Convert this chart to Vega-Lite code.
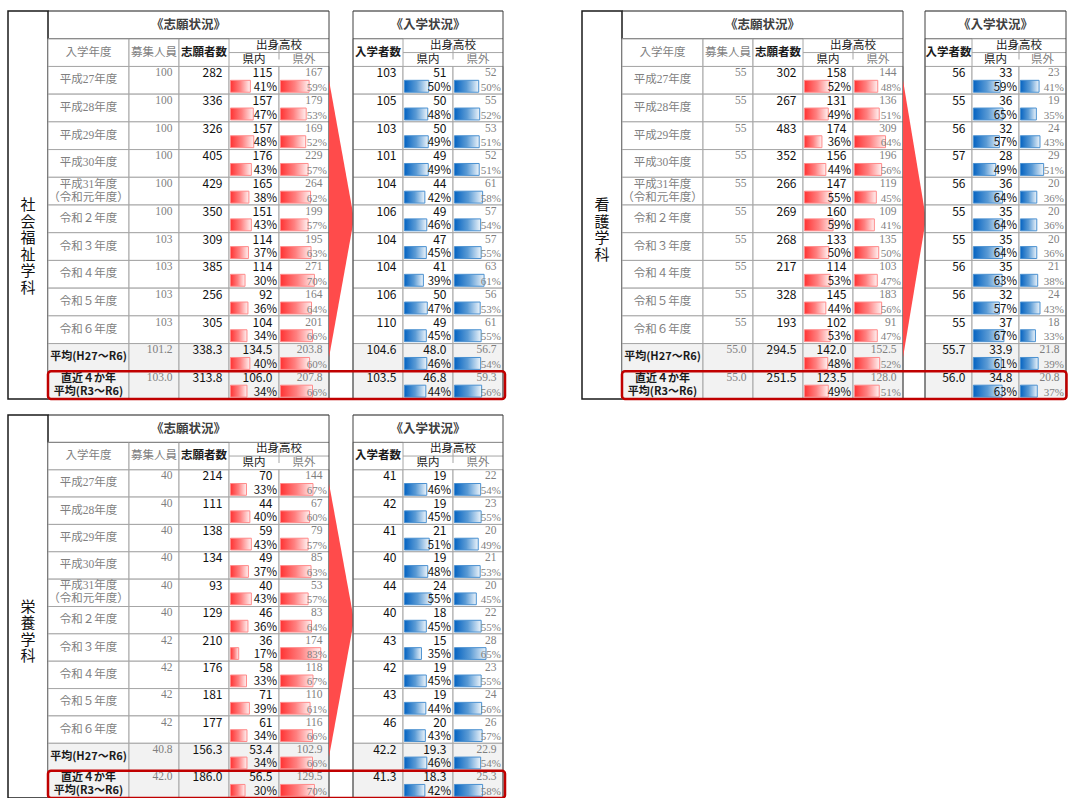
{
"$schema":"https://vega.github.io/schema/vega-lite/v6.json",
"padding":{"left":7,"top":10,"right":0,"bottom":0},
"background":"#FFFFFF",
"config":{"view":{"stroke":null}},
"datasets":{
"depts":[{"dept":"社会福祉学科","chars":["社","会","福","祉","学","科"]},{"dept":"看護学科","chars":["看","護","学","科"]},{"dept":"栄養学科","chars":["栄","養","学","科"]}],
"welfare_apply":[
{"row":"title","col":"募集人員","label":"《志願状況》"},{"row":"title","col":"志願者数"},{"row":"title","col":"県内"},{"row":"title","col":"県外"},
{"row":"header","col":"募集人員"},{"row":"header","col":"志願者数"},{"row":"header","col":"県内"},{"row":"header","col":"県外"},
{"row":"平成27年度","col":"募集人員","n":100},{"row":"平成27年度","col":"志願者数","n":282},{"row":"平成27年度","col":"県内","n":115,"pct":0.41},{"row":"平成27年度","col":"県外","n":167,"pct":0.59},
{"row":"平成28年度","col":"募集人員","n":100},{"row":"平成28年度","col":"志願者数","n":336},{"row":"平成28年度","col":"県内","n":157,"pct":0.47},{"row":"平成28年度","col":"県外","n":179,"pct":0.53},
{"row":"平成29年度","col":"募集人員","n":100},{"row":"平成29年度","col":"志願者数","n":326},{"row":"平成29年度","col":"県内","n":157,"pct":0.48},{"row":"平成29年度","col":"県外","n":169,"pct":0.52},
{"row":"平成30年度","col":"募集人員","n":100},{"row":"平成30年度","col":"志願者数","n":405},{"row":"平成30年度","col":"県内","n":176,"pct":0.43},{"row":"平成30年度","col":"県外","n":229,"pct":0.57},
{"row":"平成31年度\n（令和元年度）","col":"募集人員","n":100},{"row":"平成31年度\n（令和元年度）","col":"志願者数","n":429},{"row":"平成31年度\n（令和元年度）","col":"県内","n":165,"pct":0.38},{"row":"平成31年度\n（令和元年度）","col":"県外","n":264,"pct":0.62},
{"row":"令和２年度","col":"募集人員","n":100},{"row":"令和２年度","col":"志願者数","n":350},{"row":"令和２年度","col":"県内","n":151,"pct":0.43},{"row":"令和２年度","col":"県外","n":199,"pct":0.57},
{"row":"令和３年度","col":"募集人員","n":103},{"row":"令和３年度","col":"志願者数","n":309},{"row":"令和３年度","col":"県内","n":114,"pct":0.37},{"row":"令和３年度","col":"県外","n":195,"pct":0.63},
{"row":"令和４年度","col":"募集人員","n":103},{"row":"令和４年度","col":"志願者数","n":385},{"row":"令和４年度","col":"県内","n":114,"pct":0.30},{"row":"令和４年度","col":"県外","n":271,"pct":0.70},
{"row":"令和５年度","col":"募集人員","n":103},{"row":"令和５年度","col":"志願者数","n":256},{"row":"令和５年度","col":"県内","n":92,"pct":0.36},{"row":"令和５年度","col":"県外","n":164,"pct":0.64},
{"row":"令和６年度","col":"募集人員","n":103},{"row":"令和６年度","col":"志願者数","n":305},{"row":"令和６年度","col":"県内","n":104,"pct":0.34},{"row":"令和６年度","col":"県外","n":201,"pct":0.66},
{"row":"平均(H27～R6)","col":"募集人員","n":101.2},{"row":"平均(H27～R6)","col":"志願者数","n":338.3},{"row":"平均(H27～R6)","col":"県内","n":134.5,"pct":0.40},{"row":"平均(H27～R6)","col":"県外","n":203.8,"pct":0.60},
{"row":"直近４か年\n平均(R3～R6)","col":"募集人員","n":103.0},{"row":"直近４か年\n平均(R3～R6)","col":"志願者数","n":313.8},{"row":"直近４か年\n平均(R3～R6)","col":"県内","n":106.0,"pct":0.34},{"row":"直近４か年\n平均(R3～R6)","col":"県外","n":207.8,"pct":0.66}],
"welfare_enroll":[
{"row":"title","col":"入学者数"},{"row":"title","col":"県内","label":"《入学状況》"},{"row":"title","col":"県外"},
{"row":"header","col":"入学者数"},{"row":"header","col":"県内"},{"row":"header","col":"県外"},
{"row":"平成27年度","col":"入学者数","n":103},{"row":"平成27年度","col":"県内","n":51,"pct":0.50},{"row":"平成27年度","col":"県外","n":52,"pct":0.50},
{"row":"平成28年度","col":"入学者数","n":105},{"row":"平成28年度","col":"県内","n":50,"pct":0.48},{"row":"平成28年度","col":"県外","n":55,"pct":0.52},
{"row":"平成29年度","col":"入学者数","n":103},{"row":"平成29年度","col":"県内","n":50,"pct":0.49},{"row":"平成29年度","col":"県外","n":53,"pct":0.51},
{"row":"平成30年度","col":"入学者数","n":101},{"row":"平成30年度","col":"県内","n":49,"pct":0.49},{"row":"平成30年度","col":"県外","n":52,"pct":0.51},
{"row":"平成31年度\n（令和元年度）","col":"入学者数","n":104},{"row":"平成31年度\n（令和元年度）","col":"県内","n":44,"pct":0.42},{"row":"平成31年度\n（令和元年度）","col":"県外","n":61,"pct":0.58},
{"row":"令和２年度","col":"入学者数","n":106},{"row":"令和２年度","col":"県内","n":49,"pct":0.46},{"row":"令和２年度","col":"県外","n":57,"pct":0.54},
{"row":"令和３年度","col":"入学者数","n":104},{"row":"令和３年度","col":"県内","n":47,"pct":0.45},{"row":"令和３年度","col":"県外","n":57,"pct":0.55},
{"row":"令和４年度","col":"入学者数","n":104},{"row":"令和４年度","col":"県内","n":41,"pct":0.39},{"row":"令和４年度","col":"県外","n":63,"pct":0.61},
{"row":"令和５年度","col":"入学者数","n":106},{"row":"令和５年度","col":"県内","n":50,"pct":0.47},{"row":"令和５年度","col":"県外","n":56,"pct":0.53},
{"row":"令和６年度","col":"入学者数","n":110},{"row":"令和６年度","col":"県内","n":49,"pct":0.45},{"row":"令和６年度","col":"県外","n":61,"pct":0.55},
{"row":"平均(H27～R6)","col":"入学者数","n":104.6},{"row":"平均(H27～R6)","col":"県内","n":48.0,"pct":0.46},{"row":"平均(H27～R6)","col":"県外","n":56.7,"pct":0.54},
{"row":"直近４か年\n平均(R3～R6)","col":"入学者数","n":103.5},{"row":"直近４か年\n平均(R3～R6)","col":"県内","n":46.8,"pct":0.44},{"row":"直近４か年\n平均(R3～R6)","col":"県外","n":59.3,"pct":0.56}],
"nursing_apply":[
{"row":"title","col":"募集人員","label":"《志願状況》"},{"row":"title","col":"志願者数"},{"row":"title","col":"県内"},{"row":"title","col":"県外"},
{"row":"header","col":"募集人員"},{"row":"header","col":"志願者数"},{"row":"header","col":"県内"},{"row":"header","col":"県外"},
{"row":"平成27年度","col":"募集人員","n":55},{"row":"平成27年度","col":"志願者数","n":302},{"row":"平成27年度","col":"県内","n":158,"pct":0.52},{"row":"平成27年度","col":"県外","n":144,"pct":0.48},
{"row":"平成28年度","col":"募集人員","n":55},{"row":"平成28年度","col":"志願者数","n":267},{"row":"平成28年度","col":"県内","n":131,"pct":0.49},{"row":"平成28年度","col":"県外","n":136,"pct":0.51},
{"row":"平成29年度","col":"募集人員","n":55},{"row":"平成29年度","col":"志願者数","n":483},{"row":"平成29年度","col":"県内","n":174,"pct":0.36},{"row":"平成29年度","col":"県外","n":309,"pct":0.64},
{"row":"平成30年度","col":"募集人員","n":55},{"row":"平成30年度","col":"志願者数","n":352},{"row":"平成30年度","col":"県内","n":156,"pct":0.44},{"row":"平成30年度","col":"県外","n":196,"pct":0.56},
{"row":"平成31年度\n（令和元年度）","col":"募集人員","n":55},{"row":"平成31年度\n（令和元年度）","col":"志願者数","n":266},{"row":"平成31年度\n（令和元年度）","col":"県内","n":147,"pct":0.55},{"row":"平成31年度\n（令和元年度）","col":"県外","n":119,"pct":0.45},
{"row":"令和２年度","col":"募集人員","n":55},{"row":"令和２年度","col":"志願者数","n":269},{"row":"令和２年度","col":"県内","n":160,"pct":0.59},{"row":"令和２年度","col":"県外","n":109,"pct":0.41},
{"row":"令和３年度","col":"募集人員","n":55},{"row":"令和３年度","col":"志願者数","n":268},{"row":"令和３年度","col":"県内","n":133,"pct":0.50},{"row":"令和３年度","col":"県外","n":135,"pct":0.50},
{"row":"令和４年度","col":"募集人員","n":55},{"row":"令和４年度","col":"志願者数","n":217},{"row":"令和４年度","col":"県内","n":114,"pct":0.53},{"row":"令和４年度","col":"県外","n":103,"pct":0.47},
{"row":"令和５年度","col":"募集人員","n":55},{"row":"令和５年度","col":"志願者数","n":328},{"row":"令和５年度","col":"県内","n":145,"pct":0.44},{"row":"令和５年度","col":"県外","n":183,"pct":0.56},
{"row":"令和６年度","col":"募集人員","n":55},{"row":"令和６年度","col":"志願者数","n":193},{"row":"令和６年度","col":"県内","n":102,"pct":0.53},{"row":"令和６年度","col":"県外","n":91,"pct":0.47},
{"row":"平均(H27～R6)","col":"募集人員","n":55.0},{"row":"平均(H27～R6)","col":"志願者数","n":294.5},{"row":"平均(H27～R6)","col":"県内","n":142.0,"pct":0.48},{"row":"平均(H27～R6)","col":"県外","n":152.5,"pct":0.52},
{"row":"直近４か年\n平均(R3～R6)","col":"募集人員","n":55.0},{"row":"直近４か年\n平均(R3～R6)","col":"志願者数","n":251.5},{"row":"直近４か年\n平均(R3～R6)","col":"県内","n":123.5,"pct":0.49},{"row":"直近４か年\n平均(R3～R6)","col":"県外","n":128.0,"pct":0.51}],
"nursing_enroll":[
{"row":"title","col":"入学者数"},{"row":"title","col":"県内","label":"《入学状況》"},{"row":"title","col":"県外"},
{"row":"header","col":"入学者数"},{"row":"header","col":"県内"},{"row":"header","col":"県外"},
{"row":"平成27年度","col":"入学者数","n":56},{"row":"平成27年度","col":"県内","n":33,"pct":0.59},{"row":"平成27年度","col":"県外","n":23,"pct":0.41},
{"row":"平成28年度","col":"入学者数","n":55},{"row":"平成28年度","col":"県内","n":36,"pct":0.65},{"row":"平成28年度","col":"県外","n":19,"pct":0.35},
{"row":"平成29年度","col":"入学者数","n":56},{"row":"平成29年度","col":"県内","n":32,"pct":0.57},{"row":"平成29年度","col":"県外","n":24,"pct":0.43},
{"row":"平成30年度","col":"入学者数","n":57},{"row":"平成30年度","col":"県内","n":28,"pct":0.49},{"row":"平成30年度","col":"県外","n":29,"pct":0.51},
{"row":"平成31年度\n（令和元年度）","col":"入学者数","n":56},{"row":"平成31年度\n（令和元年度）","col":"県内","n":36,"pct":0.64},{"row":"平成31年度\n（令和元年度）","col":"県外","n":20,"pct":0.36},
{"row":"令和２年度","col":"入学者数","n":55},{"row":"令和２年度","col":"県内","n":35,"pct":0.64},{"row":"令和２年度","col":"県外","n":20,"pct":0.36},
{"row":"令和３年度","col":"入学者数","n":55},{"row":"令和３年度","col":"県内","n":35,"pct":0.64},{"row":"令和３年度","col":"県外","n":20,"pct":0.36},
{"row":"令和４年度","col":"入学者数","n":56},{"row":"令和４年度","col":"県内","n":35,"pct":0.63},{"row":"令和４年度","col":"県外","n":21,"pct":0.38},
{"row":"令和５年度","col":"入学者数","n":56},{"row":"令和５年度","col":"県内","n":32,"pct":0.57},{"row":"令和５年度","col":"県外","n":24,"pct":0.43},
{"row":"令和６年度","col":"入学者数","n":55},{"row":"令和６年度","col":"県内","n":37,"pct":0.67},{"row":"令和６年度","col":"県外","n":18,"pct":0.33},
{"row":"平均(H27～R6)","col":"入学者数","n":55.7},{"row":"平均(H27～R6)","col":"県内","n":33.9,"pct":0.61},{"row":"平均(H27～R6)","col":"県外","n":21.8,"pct":0.39},
{"row":"直近４か年\n平均(R3～R6)","col":"入学者数","n":56.0},{"row":"直近４か年\n平均(R3～R6)","col":"県内","n":34.8,"pct":0.63},{"row":"直近４か年\n平均(R3～R6)","col":"県外","n":20.8,"pct":0.37}],
"nutrition_apply":[
{"row":"title","col":"募集人員","label":"《志願状況》"},{"row":"title","col":"志願者数"},{"row":"title","col":"県内"},{"row":"title","col":"県外"},
{"row":"header","col":"募集人員"},{"row":"header","col":"志願者数"},{"row":"header","col":"県内"},{"row":"header","col":"県外"},
{"row":"平成27年度","col":"募集人員","n":40},{"row":"平成27年度","col":"志願者数","n":214},{"row":"平成27年度","col":"県内","n":70,"pct":0.33},{"row":"平成27年度","col":"県外","n":144,"pct":0.67},
{"row":"平成28年度","col":"募集人員","n":40},{"row":"平成28年度","col":"志願者数","n":111},{"row":"平成28年度","col":"県内","n":44,"pct":0.40},{"row":"平成28年度","col":"県外","n":67,"pct":0.60},
{"row":"平成29年度","col":"募集人員","n":40},{"row":"平成29年度","col":"志願者数","n":138},{"row":"平成29年度","col":"県内","n":59,"pct":0.43},{"row":"平成29年度","col":"県外","n":79,"pct":0.57},
{"row":"平成30年度","col":"募集人員","n":40},{"row":"平成30年度","col":"志願者数","n":134},{"row":"平成30年度","col":"県内","n":49,"pct":0.37},{"row":"平成30年度","col":"県外","n":85,"pct":0.63},
{"row":"平成31年度\n（令和元年度）","col":"募集人員","n":40},{"row":"平成31年度\n（令和元年度）","col":"志願者数","n":93},{"row":"平成31年度\n（令和元年度）","col":"県内","n":40,"pct":0.43},{"row":"平成31年度\n（令和元年度）","col":"県外","n":53,"pct":0.57},
{"row":"令和２年度","col":"募集人員","n":40},{"row":"令和２年度","col":"志願者数","n":129},{"row":"令和２年度","col":"県内","n":46,"pct":0.36},{"row":"令和２年度","col":"県外","n":83,"pct":0.64},
{"row":"令和３年度","col":"募集人員","n":42},{"row":"令和３年度","col":"志願者数","n":210},{"row":"令和３年度","col":"県内","n":36,"pct":0.17},{"row":"令和３年度","col":"県外","n":174,"pct":0.83},
{"row":"令和４年度","col":"募集人員","n":42},{"row":"令和４年度","col":"志願者数","n":176},{"row":"令和４年度","col":"県内","n":58,"pct":0.33},{"row":"令和４年度","col":"県外","n":118,"pct":0.67},
{"row":"令和５年度","col":"募集人員","n":42},{"row":"令和５年度","col":"志願者数","n":181},{"row":"令和５年度","col":"県内","n":71,"pct":0.39},{"row":"令和５年度","col":"県外","n":110,"pct":0.61},
{"row":"令和６年度","col":"募集人員","n":42},{"row":"令和６年度","col":"志願者数","n":177},{"row":"令和６年度","col":"県内","n":61,"pct":0.34},{"row":"令和６年度","col":"県外","n":116,"pct":0.66},
{"row":"平均(H27～R6)","col":"募集人員","n":40.8},{"row":"平均(H27～R6)","col":"志願者数","n":156.3},{"row":"平均(H27～R6)","col":"県内","n":53.4,"pct":0.34},{"row":"平均(H27～R6)","col":"県外","n":102.9,"pct":0.66},
{"row":"直近４か年\n平均(R3～R6)","col":"募集人員","n":42.0},{"row":"直近４か年\n平均(R3～R6)","col":"志願者数","n":186.0},{"row":"直近４か年\n平均(R3～R6)","col":"県内","n":56.5,"pct":0.30},{"row":"直近４か年\n平均(R3～R6)","col":"県外","n":129.5,"pct":0.70}],
"nutrition_enroll":[
{"row":"title","col":"入学者数"},{"row":"title","col":"県内","label":"《入学状況》"},{"row":"title","col":"県外"},
{"row":"header","col":"入学者数"},{"row":"header","col":"県内"},{"row":"header","col":"県外"},
{"row":"平成27年度","col":"入学者数","n":41},{"row":"平成27年度","col":"県内","n":19,"pct":0.46},{"row":"平成27年度","col":"県外","n":22,"pct":0.54},
{"row":"平成28年度","col":"入学者数","n":42},{"row":"平成28年度","col":"県内","n":19,"pct":0.45},{"row":"平成28年度","col":"県外","n":23,"pct":0.55},
{"row":"平成29年度","col":"入学者数","n":41},{"row":"平成29年度","col":"県内","n":21,"pct":0.51},{"row":"平成29年度","col":"県外","n":20,"pct":0.49},
{"row":"平成30年度","col":"入学者数","n":40},{"row":"平成30年度","col":"県内","n":19,"pct":0.48},{"row":"平成30年度","col":"県外","n":21,"pct":0.53},
{"row":"平成31年度\n（令和元年度）","col":"入学者数","n":44},{"row":"平成31年度\n（令和元年度）","col":"県内","n":24,"pct":0.55},{"row":"平成31年度\n（令和元年度）","col":"県外","n":20,"pct":0.45},
{"row":"令和２年度","col":"入学者数","n":40},{"row":"令和２年度","col":"県内","n":18,"pct":0.45},{"row":"令和２年度","col":"県外","n":22,"pct":0.55},
{"row":"令和３年度","col":"入学者数","n":43},{"row":"令和３年度","col":"県内","n":15,"pct":0.35},{"row":"令和３年度","col":"県外","n":28,"pct":0.65},
{"row":"令和４年度","col":"入学者数","n":42},{"row":"令和４年度","col":"県内","n":19,"pct":0.45},{"row":"令和４年度","col":"県外","n":23,"pct":0.55},
{"row":"令和５年度","col":"入学者数","n":43},{"row":"令和５年度","col":"県内","n":19,"pct":0.44},{"row":"令和５年度","col":"県外","n":24,"pct":0.56},
{"row":"令和６年度","col":"入学者数","n":46},{"row":"令和６年度","col":"県内","n":20,"pct":0.43},{"row":"令和６年度","col":"県外","n":26,"pct":0.57},
{"row":"平均(H27～R6)","col":"入学者数","n":42.2},{"row":"平均(H27～R6)","col":"県内","n":19.3,"pct":0.46},{"row":"平均(H27～R6)","col":"県外","n":22.9,"pct":0.54},
{"row":"直近４か年\n平均(R3～R6)","col":"入学者数","n":41.3},{"row":"直近４か年\n平均(R3～R6)","col":"県内","n":18.3,"pct":0.42},{"row":"直近４か年\n平均(R3～R6)","col":"県外","n":25.3,"pct":0.58}]
},
"vconcat":[
{"hconcat":[
{"hconcat":[
 {"width":40,"height":388,"data":{"name":"depts"},"transform":[{"filter":"datum.dept==='社会福祉学科'"}],"layer":[
  {"mark":{"type":"rect","fill":"#FFFFFF","stroke":"#1A1A1A","strokeWidth":1.5},"encoding":{"x":{"datum":0,"type":"quantitative","scale":{"domain":[0,1],"nice":false,"zero":false},"axis":null},"x2":{"datum":1},"y":{"datum":0,"type":"quantitative","scale":{"domain":[0,1],"nice":false,"zero":false},"axis":null},"y2":{"datum":1}}},
  {"mark":{"type":"text","font":"Noto Sans CJK JP","fontSize":15,"lineHeight":16.5,"color":"#111111","baseline":"middle","align":"center"},"encoding":{"x":{"datum":0.5,"type":"quantitative","scale":{"domain":[0,1],"nice":false,"zero":false},"axis":null},"y":{"datum":0.5,"type":"quantitative","scale":{"domain":[0,1],"nice":false,"zero":false},"axis":null},"text":{"field":"chars"}}}]},
 {"width":81,"height":388,"data":{"name":"welfare_apply"},"transform":[{"filter":"datum.col==='募集人員'"}],"layer":[
  {"transform":[{"filter":"datum.row!=='header' && datum.row!=='title'"}],"mark":{"type":"rect","stroke":"#A6A6A6","strokeWidth":1},"encoding":{"x":{"datum":0,"type":"quantitative","scale":{"domain":[0,1],"nice":false,"zero":false},"axis":null},"x2":{"datum":1},"y":{"field":"row","type":"nominal","scale":{"domain":["title","header","平成27年度","平成28年度","平成29年度","平成30年度","平成31年度\n（令和元年度）","令和２年度","令和３年度","令和４年度","令和５年度","令和６年度","平均(H27～R6)","直近４か年\n平均(R3～R6)"],"paddingInner":0,"paddingOuter":0},"axis":null},"fill":{"condition":{"test":"indexof(datum.row,'平均')>=0","value":"#F2F2F2"},"value":"#FFFFFF"}}},
  {"transform":[{"filter":"datum.row==='header'"}],"mark":{"type":"rect","fill":"#FFFFFF","stroke":"#A6A6A6","strokeWidth":1},"encoding":{"x":{"datum":0,"type":"quantitative","scale":{"domain":[0,1],"nice":false,"zero":false},"axis":null},"x2":{"datum":1},"y":{"field":"row","type":"nominal","axis":null}}},
  {"transform":[{"filter":"datum.row==='title'"}],"mark":{"type":"rule","stroke":"#1A1A1A","strokeWidth":1.2},"encoding":{"y":{"field":"row","type":"nominal","bandPosition":0,"axis":null}}},
  {"transform":[{"filter":"datum.row==='title'"}],"mark":{"type":"rule","stroke":"#808080","strokeWidth":1},"encoding":{"y":{"field":"row","type":"nominal","bandPosition":1,"axis":null}}},
  {"transform":[{"filter":"datum.row!=='header' && datum.row!=='title' && indexof(datum.row,'平均')<0 && indexof(datum.row,'令和元年度')<0"}],"mark":{"type":"text","font":"Liberation Serif, Noto Sans CJK JP","fontSize":11.5,"color":"#7F7F7F","baseline":"middle","align":"center"},"encoding":{"x":{"datum":0.5,"type":"quantitative","scale":{"domain":[0,1],"nice":false,"zero":false},"axis":null},"y":{"field":"row","type":"nominal","axis":null},"text":{"field":"row"}}},
  {"transform":[{"filter":"indexof(datum.row,'令和元年度')>=0"}],"mark":{"type":"text","font":"Liberation Serif, Noto Sans CJK JP","fontSize":11.5,"color":"#7F7F7F","baseline":"middle","align":"center","lineBreak":"\n","lineHeight":13,"dy":-6.5},"encoding":{"x":{"datum":0.5,"type":"quantitative","scale":{"domain":[0,1],"nice":false,"zero":false},"axis":null},"y":{"field":"row","type":"nominal","axis":null},"text":{"field":"row"}}},
  {"transform":[{"filter":"indexof(datum.row,'平均')===0"}],"mark":{"type":"text","font":"Noto Sans CJK JP","fontSize":11,"fontWeight":"bold","color":"#1A1A1A","baseline":"middle","align":"center"},"encoding":{"x":{"datum":0.5,"type":"quantitative","scale":{"domain":[0,1],"nice":false,"zero":false},"axis":null},"y":{"field":"row","type":"nominal","axis":null},"text":{"field":"row"}}},
  {"transform":[{"filter":"indexof(datum.row,'直近')===0"}],"mark":{"type":"text","font":"Noto Sans CJK JP","fontSize":11,"fontWeight":"bold","color":"#1A1A1A","baseline":"middle","align":"center","lineBreak":"\n","lineHeight":13,"dy":-6.5},"encoding":{"x":{"datum":0.5,"type":"quantitative","scale":{"domain":[0,1],"nice":false,"zero":false},"axis":null},"y":{"field":"row","type":"nominal","axis":null},"text":{"field":"row"}}},
  {"transform":[{"filter":"datum.row==='header'"}],"mark":{"type":"text","font":"Noto Sans CJK JP","fontSize":11.5,"color":"#7F7F7F","baseline":"middle","align":"center"},"encoding":{"x":{"datum":0.5,"type":"quantitative","scale":{"domain":[0,1],"nice":false,"zero":false},"axis":null},"y":{"field":"row","type":"nominal","axis":null},"text":{"value":"入学年度"}}},
  {"transform":[{"filter":"indexof(datum.row,'直近')===0"}],"mark":{"type":"rule","stroke":"#404040","strokeWidth":1},"encoding":{"y":{"field":"row","type":"nominal","bandPosition":1,"axis":null}}}]},
 {"width":50,"height":388,"data":{"name":"welfare_apply"},"transform":[{"filter":"datum.col==='募集人員'"}],"layer":[
  {"transform":[{"filter":"datum.row!=='header' && datum.row!=='title'"}],"mark":{"type":"rect","stroke":"#A6A6A6","strokeWidth":1},"encoding":{"x":{"datum":-0.03,"type":"quantitative","scale":{"domain":[-0.03,1],"nice":false,"zero":false},"axis":null},"x2":{"datum":1},"y":{"field":"row","type":"nominal","scale":{"domain":["title","header","平成27年度","平成28年度","平成29年度","平成30年度","平成31年度\n（令和元年度）","令和２年度","令和３年度","令和４年度","令和５年度","令和６年度","平均(H27～R6)","直近４か年\n平均(R3～R6)"],"paddingInner":0,"paddingOuter":0},"axis":null},"fill":{"condition":{"test":"indexof(datum.row,'平均')>=0","value":"#F2F2F2"},"value":"#FFFFFF"}}},
  {"transform":[{"filter":"datum.row==='header'"}],"mark":{"type":"rect","fill":"#FFFFFF","stroke":"#A6A6A6","strokeWidth":1},"encoding":{"x":{"datum":-0.03,"type":"quantitative","scale":{"domain":[-0.03,1],"nice":false,"zero":false},"axis":null},"x2":{"datum":1},"y":{"field":"row","type":"nominal","axis":null}}},
  {"transform":[{"filter":"datum.row==='title'"}],"mark":{"type":"rule","stroke":"#1A1A1A","strokeWidth":1.2},"encoding":{"y":{"field":"row","type":"nominal","bandPosition":0,"axis":null}}},
  {"transform":[{"filter":"datum.row==='title'"}],"mark":{"type":"rule","stroke":"#808080","strokeWidth":1},"encoding":{"y":{"field":"row","type":"nominal","bandPosition":1,"axis":null}}},
  {"transform":[{"filter":"datum.row==='header'"}],"mark":{"type":"text","font":"Noto Sans CJK JP","fontSize":11.5,"color":"#7F7F7F","baseline":"middle","align":"center"},"encoding":{"x":{"datum":0.485,"type":"quantitative","scale":{"domain":[-0.03,1],"nice":false,"zero":false},"axis":null},"y":{"field":"row","type":"nominal","axis":null},"text":{"field":"col"}}},
  {"transform":[{"filter":"isValid(datum.label)"}],"mark":{"type":"text","font":"Noto Sans CJK JP","fontSize":12.5,"fontWeight":"bold","color":"#404040","baseline":"middle","align":"center","dx":9.5},"encoding":{"x":{"datum":1,"type":"quantitative","scale":{"domain":[-0.03,1],"nice":false,"zero":false},"axis":null},"y":{"field":"row","type":"nominal","axis":null},"text":{"field":"label"}}},
  {"transform":[{"filter":"isValid(datum.n) && indexof(datum.row,'平均')<0"}],"mark":{"type":"text","font":"Liberation Serif, Noto Sans CJK JP","fontSize":11.5,"color":"#7F7F7F","align":"right","baseline":"middle","dx":-6.5,"dy":-7},"encoding":{"x":{"datum":1,"type":"quantitative","scale":{"domain":[-0.03,1],"nice":false,"zero":false},"axis":null},"y":{"field":"row","type":"nominal","axis":null},"text":{"field":"n","type":"quantitative","format":"d"}}},
  {"transform":[{"filter":"isValid(datum.n) && indexof(datum.row,'平均')>=0"}],"mark":{"type":"text","font":"Liberation Serif, Noto Sans CJK JP","fontSize":11.5,"color":"#7F7F7F","align":"right","baseline":"middle","dx":-6.5,"dy":-7},"encoding":{"x":{"datum":1,"type":"quantitative","scale":{"domain":[-0.03,1],"nice":false,"zero":false},"axis":null},"y":{"field":"row","type":"nominal","axis":null},"text":{"field":"n","type":"quantitative","format":".1f"}}},
  {"transform":[{"filter":"indexof(datum.row,'直近')===0"}],"mark":{"type":"rule","stroke":"#404040","strokeWidth":1},"encoding":{"y":{"field":"row","type":"nominal","bandPosition":1,"axis":null}}}]},
 {"width":50,"height":388,"data":{"name":"welfare_apply"},"transform":[{"filter":"datum.col==='志願者数'"}],"layer":[
  {"transform":[{"filter":"datum.row!=='header' && datum.row!=='title'"}],"mark":{"type":"rect","stroke":"#A6A6A6","strokeWidth":1},"encoding":{"x":{"datum":-0.03,"type":"quantitative","scale":{"domain":[-0.03,1],"nice":false,"zero":false},"axis":null},"x2":{"datum":1},"y":{"field":"row","type":"nominal","scale":{"domain":["title","header","平成27年度","平成28年度","平成29年度","平成30年度","平成31年度\n（令和元年度）","令和２年度","令和３年度","令和４年度","令和５年度","令和６年度","平均(H27～R6)","直近４か年\n平均(R3～R6)"],"paddingInner":0,"paddingOuter":0},"axis":null},"fill":{"condition":{"test":"indexof(datum.row,'平均')>=0","value":"#F2F2F2"},"value":"#FFFFFF"}}},
  {"transform":[{"filter":"datum.row==='header'"}],"mark":{"type":"rect","fill":"#FFFFFF","stroke":"#A6A6A6","strokeWidth":1},"encoding":{"x":{"datum":-0.03,"type":"quantitative","scale":{"domain":[-0.03,1],"nice":false,"zero":false},"axis":null},"x2":{"datum":1},"y":{"field":"row","type":"nominal","axis":null}}},
  {"transform":[{"filter":"datum.row==='title'"}],"mark":{"type":"rule","stroke":"#1A1A1A","strokeWidth":1.2},"encoding":{"y":{"field":"row","type":"nominal","bandPosition":0,"axis":null}}},
  {"transform":[{"filter":"datum.row==='title'"}],"mark":{"type":"rule","stroke":"#808080","strokeWidth":1},"encoding":{"y":{"field":"row","type":"nominal","bandPosition":1,"axis":null}}},
  {"transform":[{"filter":"datum.row==='header'"}],"mark":{"type":"text","font":"Noto Sans CJK JP","fontSize":11.5,"fontWeight":"bold","color":"#1A1A1A","baseline":"middle","align":"center"},"encoding":{"x":{"datum":0.485,"type":"quantitative","scale":{"domain":[-0.03,1],"nice":false,"zero":false},"axis":null},"y":{"field":"row","type":"nominal","axis":null},"text":{"field":"col"}}},
  {"transform":[{"filter":"isValid(datum.n) && indexof(datum.row,'平均')<0"}],"mark":{"type":"text","font":"Liberation Sans Narrow, Noto Sans CJK JP","fontSize":12,"color":"#111111","align":"right","baseline":"middle","dx":-6.5,"dy":-7},"encoding":{"x":{"datum":1,"type":"quantitative","scale":{"domain":[-0.03,1],"nice":false,"zero":false},"axis":null},"y":{"field":"row","type":"nominal","axis":null},"text":{"field":"n","type":"quantitative","format":"d"}}},
  {"transform":[{"filter":"isValid(datum.n) && indexof(datum.row,'平均')>=0"}],"mark":{"type":"text","font":"Liberation Sans Narrow, Noto Sans CJK JP","fontSize":12,"color":"#111111","align":"right","baseline":"middle","dx":-6.5,"dy":-7},"encoding":{"x":{"datum":1,"type":"quantitative","scale":{"domain":[-0.03,1],"nice":false,"zero":false},"axis":null},"y":{"field":"row","type":"nominal","axis":null},"text":{"field":"n","type":"quantitative","format":".1f"}}},
  {"transform":[{"filter":"indexof(datum.row,'直近')===0"}],"mark":{"type":"rule","stroke":"#404040","strokeWidth":1},"encoding":{"y":{"field":"row","type":"nominal","bandPosition":1,"axis":null}}}]},
 {"width":50,"height":388,"data":{"name":"welfare_apply"},"transform":[{"filter":"datum.col==='県内'"}],"layer":[
  {"transform":[{"filter":"datum.row!=='header' && datum.row!=='title'"}],"mark":{"type":"rect","stroke":"#A6A6A6","strokeWidth":1},"encoding":{"x":{"datum":-0.03,"type":"quantitative","scale":{"domain":[-0.03,1],"nice":false,"zero":false},"axis":null},"x2":{"datum":1},"y":{"field":"row","type":"nominal","scale":{"domain":["title","header","平成27年度","平成28年度","平成29年度","平成30年度","平成31年度\n（令和元年度）","令和２年度","令和３年度","令和４年度","令和５年度","令和６年度","平均(H27～R6)","直近４か年\n平均(R3～R6)"],"paddingInner":0,"paddingOuter":0},"axis":null},"fill":{"condition":{"test":"indexof(datum.row,'平均')>=0","value":"#F2F2F2"},"value":"#FFFFFF"}}},
  {"transform":[{"filter":"datum.row==='title'"}],"mark":{"type":"rule","stroke":"#1A1A1A","strokeWidth":1.2},"encoding":{"y":{"field":"row","type":"nominal","bandPosition":0,"axis":null}}},
  {"transform":[{"filter":"datum.row==='title'"}],"mark":{"type":"rule","stroke":"#808080","strokeWidth":1},"encoding":{"y":{"field":"row","type":"nominal","bandPosition":1,"axis":null}}},
  {"transform":[{"filter":"datum.row==='header'"}],"mark":{"type":"rule","stroke":"#A6A6A6","strokeWidth":1},"encoding":{"y":{"field":"row","type":"nominal","bandPosition":0.5,"axis":null}}},
  {"transform":[{"filter":"datum.row==='header'"}],"mark":{"type":"tick","orient":"vertical","size":13.86,"thickness":1,"color":"#A6A6A6","opacity":1},"encoding":{"x":{"datum":1,"type":"quantitative","scale":{"domain":[-0.03,1],"nice":false,"zero":false},"axis":null},"y":{"field":"row","type":"nominal","bandPosition":0.75,"axis":null}}},
  {"transform":[{"filter":"isValid(datum.pct)"}],"mark":{"type":"bar","height":{"band":0.43},"yOffset":6,"fill":{"gradient":"linear","x1":0,"y1":0,"x2":1,"y2":0,"stops":[{"offset":0,"color":"#FF3333"},{"offset":0.5,"color":"#FF8080"},{"offset":1,"color":"#FFF2F2"}]},"stroke":"#FF8A8A","strokeWidth":1},"encoding":{"x":{"field":"pct","type":"quantitative","scale":{"domain":[-0.03,1],"nice":false,"zero":false},"axis":null},"y":{"field":"row","type":"nominal","axis":null}}},
  {"transform":[{"filter":"datum.row==='header'"}],"mark":{"type":"text","font":"Noto Sans CJK JP","fontSize":11.5,"color":"#1A1A1A","baseline":"middle","align":"center"},"encoding":{"x":{"datum":0.485,"type":"quantitative","scale":{"domain":[-0.03,1],"nice":false,"zero":false},"axis":null},"y":{"field":"row","type":"nominal","bandPosition":0.75,"axis":null},"text":{"field":"col"}}},
  {"transform":[{"filter":"datum.row==='header'"}],"mark":{"type":"text","font":"Noto Sans CJK JP","fontSize":11.5,"color":"#1A1A1A","baseline":"middle","align":"center"},"encoding":{"x":{"datum":1,"type":"quantitative","scale":{"domain":[-0.03,1],"nice":false,"zero":false},"axis":null},"y":{"field":"row","type":"nominal","bandPosition":0.25,"axis":null},"text":{"value":"出身高校"}}},
  {"transform":[{"filter":"isValid(datum.n) && indexof(datum.row,'平均')<0"}],"mark":{"type":"text","font":"Liberation Sans Narrow, Noto Sans CJK JP","fontSize":12,"color":"#111111","align":"right","baseline":"middle","dx":-6.5,"dy":-7},"encoding":{"x":{"datum":1,"type":"quantitative","scale":{"domain":[-0.03,1],"nice":false,"zero":false},"axis":null},"y":{"field":"row","type":"nominal","axis":null},"text":{"field":"n","type":"quantitative","format":"d"}}},
  {"transform":[{"filter":"isValid(datum.n) && indexof(datum.row,'平均')>=0"}],"mark":{"type":"text","font":"Liberation Sans Narrow, Noto Sans CJK JP","fontSize":12,"color":"#111111","align":"right","baseline":"middle","dx":-6.5,"dy":-7},"encoding":{"x":{"datum":1,"type":"quantitative","scale":{"domain":[-0.03,1],"nice":false,"zero":false},"axis":null},"y":{"field":"row","type":"nominal","axis":null},"text":{"field":"n","type":"quantitative","format":".1f"}}},
  {"transform":[{"filter":"isValid(datum.pct)"}],"mark":{"type":"text","font":"Liberation Sans Narrow, Noto Sans CJK JP","fontSize":11.5,"color":"#111111","align":"right","baseline":"middle","dx":-2,"dy":7.5},"encoding":{"x":{"datum":1,"type":"quantitative","scale":{"domain":[-0.03,1],"nice":false,"zero":false},"axis":null},"y":{"field":"row","type":"nominal","axis":null},"text":{"field":"pct","type":"quantitative","format":".0%"}}},
  {"transform":[{"filter":"indexof(datum.row,'直近')===0"}],"mark":{"type":"rule","stroke":"#404040","strokeWidth":1},"encoding":{"y":{"field":"row","type":"nominal","bandPosition":1,"axis":null}}}]},
 {"width":50,"height":388,"data":{"name":"welfare_apply"},"transform":[{"filter":"datum.col==='県外'"}],"layer":[
  {"transform":[{"filter":"datum.row!=='header' && datum.row!=='title'"}],"mark":{"type":"rect","stroke":"#A6A6A6","strokeWidth":1},"encoding":{"x":{"datum":-0.03,"type":"quantitative","scale":{"domain":[-0.03,1],"nice":false,"zero":false},"axis":null},"x2":{"datum":1},"y":{"field":"row","type":"nominal","scale":{"domain":["title","header","平成27年度","平成28年度","平成29年度","平成30年度","平成31年度\n（令和元年度）","令和２年度","令和３年度","令和４年度","令和５年度","令和６年度","平均(H27～R6)","直近４か年\n平均(R3～R6)"],"paddingInner":0,"paddingOuter":0},"axis":null},"fill":{"condition":{"test":"indexof(datum.row,'平均')>=0","value":"#F2F2F2"},"value":"#FFFFFF"}}},
  {"transform":[{"filter":"datum.row==='title'"}],"mark":{"type":"rule","stroke":"#1A1A1A","strokeWidth":1.2},"encoding":{"y":{"field":"row","type":"nominal","bandPosition":0,"axis":null}}},
  {"transform":[{"filter":"datum.row==='title'"}],"mark":{"type":"rule","stroke":"#808080","strokeWidth":1},"encoding":{"y":{"field":"row","type":"nominal","bandPosition":1,"axis":null}}},
  {"transform":[{"filter":"datum.row==='header'"}],"mark":{"type":"rule","stroke":"#A6A6A6","strokeWidth":1},"encoding":{"y":{"field":"row","type":"nominal","bandPosition":0.5,"axis":null}}},
  {"transform":[{"filter":"isValid(datum.pct)"}],"mark":{"type":"bar","height":{"band":0.43},"yOffset":6,"fill":{"gradient":"linear","x1":0,"y1":0,"x2":1,"y2":0,"stops":[{"offset":0,"color":"#FF3333"},{"offset":0.5,"color":"#FF8080"},{"offset":1,"color":"#FFF2F2"}]},"stroke":"#FF8A8A","strokeWidth":1},"encoding":{"x":{"field":"pct","type":"quantitative","scale":{"domain":[-0.03,1],"nice":false,"zero":false},"axis":null},"y":{"field":"row","type":"nominal","axis":null}}},
  {"transform":[{"filter":"datum.row==='header'"}],"mark":{"type":"text","font":"Noto Sans CJK JP","fontSize":11.5,"color":"#7F7F7F","baseline":"middle","align":"center"},"encoding":{"x":{"datum":0.485,"type":"quantitative","scale":{"domain":[-0.03,1],"nice":false,"zero":false},"axis":null},"y":{"field":"row","type":"nominal","bandPosition":0.75,"axis":null},"text":{"field":"col"}}},
  {"transform":[{"filter":"isValid(datum.n) && indexof(datum.row,'平均')<0"}],"mark":{"type":"text","font":"Liberation Serif, Noto Sans CJK JP","fontSize":11.5,"color":"#7F7F7F","align":"right","baseline":"middle","dx":-6.5,"dy":-7},"encoding":{"x":{"datum":1,"type":"quantitative","scale":{"domain":[-0.03,1],"nice":false,"zero":false},"axis":null},"y":{"field":"row","type":"nominal","axis":null},"text":{"field":"n","type":"quantitative","format":"d"}}},
  {"transform":[{"filter":"isValid(datum.n) && indexof(datum.row,'平均')>=0"}],"mark":{"type":"text","font":"Liberation Serif, Noto Sans CJK JP","fontSize":11.5,"color":"#7F7F7F","align":"right","baseline":"middle","dx":-6.5,"dy":-7},"encoding":{"x":{"datum":1,"type":"quantitative","scale":{"domain":[-0.03,1],"nice":false,"zero":false},"axis":null},"y":{"field":"row","type":"nominal","axis":null},"text":{"field":"n","type":"quantitative","format":".1f"}}},
  {"transform":[{"filter":"isValid(datum.pct)"}],"mark":{"type":"text","font":"Liberation Serif, Noto Sans CJK JP","fontSize":11,"color":"#7F7F7F","align":"right","baseline":"middle","dx":-2,"dy":7.5},"encoding":{"x":{"datum":1,"type":"quantitative","scale":{"domain":[-0.03,1],"nice":false,"zero":false},"axis":null},"y":{"field":"row","type":"nominal","axis":null},"text":{"field":"pct","type":"quantitative","format":".0%"}}},
  {"transform":[{"filter":"indexof(datum.row,'直近')===0"}],"mark":{"type":"rule","stroke":"#404040","strokeWidth":1},"encoding":{"y":{"field":"row","type":"nominal","bandPosition":1,"axis":null}}},
  {"transform":[{"filter":"datum.row==='header'"}],"mark":{"type":"rule","stroke":"#404040","strokeWidth":1},"encoding":{"x":{"datum":1,"type":"quantitative","scale":{"domain":[-0.03,1],"nice":false,"zero":false},"axis":null}}}]},
 {"width":24,"height":388,"data":{"name":"welfare_enroll"},"transform":[{"filter":"datum.col==='入学者数' && datum.row==='令和２年度'"}],
  "mark":{"type":"point","shape":"M0,-1L0.1804,0L0,1Z","size":76808,"filled":true,"color":"#FF4B4B","opacity":1,"strokeWidth":0},
  "encoding":{"x":{"datum":0,"type":"quantitative","scale":{"domain":[0,1],"nice":false,"zero":false},"axis":null},"y":{"field":"row","type":"nominal","bandPosition":0,"scale":{"domain":["title","header","平成27年度","平成28年度","平成29年度","平成30年度","平成31年度\n（令和元年度）","令和２年度","令和３年度","令和４年度","令和５年度","令和６年度","平均(H27～R6)","直近４か年\n平均(R3～R6)"],"paddingInner":0,"paddingOuter":0},"axis":null}}},
 {"width":50,"height":388,"data":{"name":"welfare_enroll"},"transform":[{"filter":"datum.col==='入学者数'"}],"layer":[
  {"transform":[{"filter":"datum.row!=='header' && datum.row!=='title'"}],"mark":{"type":"rect","stroke":"#A6A6A6","strokeWidth":1},"encoding":{"x":{"datum":-0.03,"type":"quantitative","scale":{"domain":[-0.03,1],"nice":false,"zero":false},"axis":null},"x2":{"datum":1},"y":{"field":"row","type":"nominal","scale":{"domain":["title","header","平成27年度","平成28年度","平成29年度","平成30年度","平成31年度\n（令和元年度）","令和２年度","令和３年度","令和４年度","令和５年度","令和６年度","平均(H27～R6)","直近４か年\n平均(R3～R6)"],"paddingInner":0,"paddingOuter":0},"axis":null},"fill":{"condition":{"test":"indexof(datum.row,'平均')>=0","value":"#F2F2F2"},"value":"#FFFFFF"}}},
  {"transform":[{"filter":"datum.row==='header'"}],"mark":{"type":"rect","fill":"#FFFFFF","stroke":"#A6A6A6","strokeWidth":1},"encoding":{"x":{"datum":-0.03,"type":"quantitative","scale":{"domain":[-0.03,1],"nice":false,"zero":false},"axis":null},"x2":{"datum":1},"y":{"field":"row","type":"nominal","axis":null}}},
  {"transform":[{"filter":"datum.row==='title'"}],"mark":{"type":"rule","stroke":"#1A1A1A","strokeWidth":1.2},"encoding":{"y":{"field":"row","type":"nominal","bandPosition":0,"axis":null}}},
  {"transform":[{"filter":"datum.row==='title'"}],"mark":{"type":"rule","stroke":"#808080","strokeWidth":1},"encoding":{"y":{"field":"row","type":"nominal","bandPosition":1,"axis":null}}},
  {"transform":[{"filter":"datum.row==='header'"}],"mark":{"type":"text","font":"Noto Sans CJK JP","fontSize":11.5,"fontWeight":"bold","color":"#1A1A1A","baseline":"middle","align":"center"},"encoding":{"x":{"datum":0.485,"type":"quantitative","scale":{"domain":[-0.03,1],"nice":false,"zero":false},"axis":null},"y":{"field":"row","type":"nominal","axis":null},"text":{"field":"col"}}},
  {"transform":[{"filter":"isValid(datum.n) && indexof(datum.row,'平均')<0"}],"mark":{"type":"text","font":"Liberation Sans Narrow, Noto Sans CJK JP","fontSize":12,"color":"#111111","align":"right","baseline":"middle","dx":-6.5,"dy":-7},"encoding":{"x":{"datum":1,"type":"quantitative","scale":{"domain":[-0.03,1],"nice":false,"zero":false},"axis":null},"y":{"field":"row","type":"nominal","axis":null},"text":{"field":"n","type":"quantitative","format":"d"}}},
  {"transform":[{"filter":"isValid(datum.n) && indexof(datum.row,'平均')>=0"}],"mark":{"type":"text","font":"Liberation Sans Narrow, Noto Sans CJK JP","fontSize":12,"color":"#111111","align":"right","baseline":"middle","dx":-6.5,"dy":-7},"encoding":{"x":{"datum":1,"type":"quantitative","scale":{"domain":[-0.03,1],"nice":false,"zero":false},"axis":null},"y":{"field":"row","type":"nominal","axis":null},"text":{"field":"n","type":"quantitative","format":".1f"}}},
  {"transform":[{"filter":"indexof(datum.row,'直近')===0"}],"mark":{"type":"rule","stroke":"#404040","strokeWidth":1},"encoding":{"y":{"field":"row","type":"nominal","bandPosition":1,"axis":null}}},
  {"transform":[{"filter":"datum.row==='header'"}],"mark":{"type":"rule","stroke":"#404040","strokeWidth":1},"encoding":{"x":{"datum":-0.03,"type":"quantitative","scale":{"domain":[-0.03,1],"nice":false,"zero":false},"axis":null}}}]},
 {"width":50,"height":388,"data":{"name":"welfare_enroll"},"transform":[{"filter":"datum.col==='県内'"}],"layer":[
  {"transform":[{"filter":"datum.row!=='header' && datum.row!=='title'"}],"mark":{"type":"rect","stroke":"#A6A6A6","strokeWidth":1},"encoding":{"x":{"datum":-0.03,"type":"quantitative","scale":{"domain":[-0.03,1],"nice":false,"zero":false},"axis":null},"x2":{"datum":1},"y":{"field":"row","type":"nominal","scale":{"domain":["title","header","平成27年度","平成28年度","平成29年度","平成30年度","平成31年度\n（令和元年度）","令和２年度","令和３年度","令和４年度","令和５年度","令和６年度","平均(H27～R6)","直近４か年\n平均(R3～R6)"],"paddingInner":0,"paddingOuter":0},"axis":null},"fill":{"condition":{"test":"indexof(datum.row,'平均')>=0","value":"#F2F2F2"},"value":"#FFFFFF"}}},
  {"transform":[{"filter":"datum.row==='title'"}],"mark":{"type":"rule","stroke":"#1A1A1A","strokeWidth":1.2},"encoding":{"y":{"field":"row","type":"nominal","bandPosition":0,"axis":null}}},
  {"transform":[{"filter":"datum.row==='title'"}],"mark":{"type":"rule","stroke":"#808080","strokeWidth":1},"encoding":{"y":{"field":"row","type":"nominal","bandPosition":1,"axis":null}}},
  {"transform":[{"filter":"datum.row==='header'"}],"mark":{"type":"rule","stroke":"#A6A6A6","strokeWidth":1},"encoding":{"y":{"field":"row","type":"nominal","bandPosition":0.5,"axis":null}}},
  {"transform":[{"filter":"datum.row==='header'"}],"mark":{"type":"tick","orient":"vertical","size":13.86,"thickness":1,"color":"#A6A6A6","opacity":1},"encoding":{"x":{"datum":1,"type":"quantitative","scale":{"domain":[-0.03,1],"nice":false,"zero":false},"axis":null},"y":{"field":"row","type":"nominal","bandPosition":0.75,"axis":null}}},
  {"transform":[{"filter":"isValid(datum.pct)"}],"mark":{"type":"bar","height":{"band":0.43},"yOffset":6,"fill":{"gradient":"linear","x1":0,"y1":0,"x2":1,"y2":0,"stops":[{"offset":0,"color":"#0563C1"},{"offset":0.5,"color":"#5B9BD5"},{"offset":1,"color":"#EEF5FB"}]},"stroke":"#4A90D0","strokeWidth":1},"encoding":{"x":{"field":"pct","type":"quantitative","scale":{"domain":[-0.03,1],"nice":false,"zero":false},"axis":null},"y":{"field":"row","type":"nominal","axis":null}}},
  {"transform":[{"filter":"isValid(datum.label)"}],"mark":{"type":"text","font":"Noto Sans CJK JP","fontSize":12.5,"fontWeight":"bold","color":"#404040","baseline":"middle","align":"center"},"encoding":{"x":{"datum":0.485,"type":"quantitative","scale":{"domain":[-0.03,1],"nice":false,"zero":false},"axis":null},"y":{"field":"row","type":"nominal","axis":null},"text":{"field":"label"}}},
  {"transform":[{"filter":"datum.row==='header'"}],"mark":{"type":"text","font":"Noto Sans CJK JP","fontSize":11.5,"color":"#1A1A1A","baseline":"middle","align":"center"},"encoding":{"x":{"datum":0.485,"type":"quantitative","scale":{"domain":[-0.03,1],"nice":false,"zero":false},"axis":null},"y":{"field":"row","type":"nominal","bandPosition":0.75,"axis":null},"text":{"field":"col"}}},
  {"transform":[{"filter":"datum.row==='header'"}],"mark":{"type":"text","font":"Noto Sans CJK JP","fontSize":11.5,"color":"#1A1A1A","baseline":"middle","align":"center"},"encoding":{"x":{"datum":1,"type":"quantitative","scale":{"domain":[-0.03,1],"nice":false,"zero":false},"axis":null},"y":{"field":"row","type":"nominal","bandPosition":0.25,"axis":null},"text":{"value":"出身高校"}}},
  {"transform":[{"filter":"isValid(datum.n) && indexof(datum.row,'平均')<0"}],"mark":{"type":"text","font":"Liberation Sans Narrow, Noto Sans CJK JP","fontSize":12,"color":"#111111","align":"right","baseline":"middle","dx":-6.5,"dy":-7},"encoding":{"x":{"datum":1,"type":"quantitative","scale":{"domain":[-0.03,1],"nice":false,"zero":false},"axis":null},"y":{"field":"row","type":"nominal","axis":null},"text":{"field":"n","type":"quantitative","format":"d"}}},
  {"transform":[{"filter":"isValid(datum.n) && indexof(datum.row,'平均')>=0"}],"mark":{"type":"text","font":"Liberation Sans Narrow, Noto Sans CJK JP","fontSize":12,"color":"#111111","align":"right","baseline":"middle","dx":-6.5,"dy":-7},"encoding":{"x":{"datum":1,"type":"quantitative","scale":{"domain":[-0.03,1],"nice":false,"zero":false},"axis":null},"y":{"field":"row","type":"nominal","axis":null},"text":{"field":"n","type":"quantitative","format":".1f"}}},
  {"transform":[{"filter":"isValid(datum.pct)"}],"mark":{"type":"text","font":"Liberation Sans Narrow, Noto Sans CJK JP","fontSize":11.5,"color":"#111111","align":"right","baseline":"middle","dx":-2,"dy":7.5},"encoding":{"x":{"datum":1,"type":"quantitative","scale":{"domain":[-0.03,1],"nice":false,"zero":false},"axis":null},"y":{"field":"row","type":"nominal","axis":null},"text":{"field":"pct","type":"quantitative","format":".0%"}}},
  {"transform":[{"filter":"indexof(datum.row,'直近')===0"}],"mark":{"type":"rule","stroke":"#404040","strokeWidth":1},"encoding":{"y":{"field":"row","type":"nominal","bandPosition":1,"axis":null}}}]},
 {"width":50,"height":388,"data":{"name":"welfare_enroll"},"transform":[{"filter":"datum.col==='県外'"}],"layer":[
  {"transform":[{"filter":"datum.row!=='header' && datum.row!=='title'"}],"mark":{"type":"rect","stroke":"#A6A6A6","strokeWidth":1},"encoding":{"x":{"datum":-0.03,"type":"quantitative","scale":{"domain":[-0.03,1],"nice":false,"zero":false},"axis":null},"x2":{"datum":1},"y":{"field":"row","type":"nominal","scale":{"domain":["title","header","平成27年度","平成28年度","平成29年度","平成30年度","平成31年度\n（令和元年度）","令和２年度","令和３年度","令和４年度","令和５年度","令和６年度","平均(H27～R6)","直近４か年\n平均(R3～R6)"],"paddingInner":0,"paddingOuter":0},"axis":null},"fill":{"condition":{"test":"indexof(datum.row,'平均')>=0","value":"#F2F2F2"},"value":"#FFFFFF"}}},
  {"transform":[{"filter":"datum.row==='title'"}],"mark":{"type":"rule","stroke":"#1A1A1A","strokeWidth":1.2},"encoding":{"y":{"field":"row","type":"nominal","bandPosition":0,"axis":null}}},
  {"transform":[{"filter":"datum.row==='title'"}],"mark":{"type":"rule","stroke":"#808080","strokeWidth":1},"encoding":{"y":{"field":"row","type":"nominal","bandPosition":1,"axis":null}}},
  {"transform":[{"filter":"datum.row==='header'"}],"mark":{"type":"rule","stroke":"#A6A6A6","strokeWidth":1},"encoding":{"y":{"field":"row","type":"nominal","bandPosition":0.5,"axis":null}}},
  {"transform":[{"filter":"isValid(datum.pct)"}],"mark":{"type":"bar","height":{"band":0.43},"yOffset":6,"fill":{"gradient":"linear","x1":0,"y1":0,"x2":1,"y2":0,"stops":[{"offset":0,"color":"#0563C1"},{"offset":0.5,"color":"#5B9BD5"},{"offset":1,"color":"#EEF5FB"}]},"stroke":"#4A90D0","strokeWidth":1},"encoding":{"x":{"field":"pct","type":"quantitative","scale":{"domain":[-0.03,1],"nice":false,"zero":false},"axis":null},"y":{"field":"row","type":"nominal","axis":null}}},
  {"transform":[{"filter":"datum.row==='header'"}],"mark":{"type":"text","font":"Noto Sans CJK JP","fontSize":11.5,"color":"#7F7F7F","baseline":"middle","align":"center"},"encoding":{"x":{"datum":0.485,"type":"quantitative","scale":{"domain":[-0.03,1],"nice":false,"zero":false},"axis":null},"y":{"field":"row","type":"nominal","bandPosition":0.75,"axis":null},"text":{"field":"col"}}},
  {"transform":[{"filter":"isValid(datum.n) && indexof(datum.row,'平均')<0"}],"mark":{"type":"text","font":"Liberation Serif, Noto Sans CJK JP","fontSize":11.5,"color":"#7F7F7F","align":"right","baseline":"middle","dx":-6.5,"dy":-7},"encoding":{"x":{"datum":1,"type":"quantitative","scale":{"domain":[-0.03,1],"nice":false,"zero":false},"axis":null},"y":{"field":"row","type":"nominal","axis":null},"text":{"field":"n","type":"quantitative","format":"d"}}},
  {"transform":[{"filter":"isValid(datum.n) && indexof(datum.row,'平均')>=0"}],"mark":{"type":"text","font":"Liberation Serif, Noto Sans CJK JP","fontSize":11.5,"color":"#7F7F7F","align":"right","baseline":"middle","dx":-6.5,"dy":-7},"encoding":{"x":{"datum":1,"type":"quantitative","scale":{"domain":[-0.03,1],"nice":false,"zero":false},"axis":null},"y":{"field":"row","type":"nominal","axis":null},"text":{"field":"n","type":"quantitative","format":".1f"}}},
  {"transform":[{"filter":"isValid(datum.pct)"}],"mark":{"type":"text","font":"Liberation Serif, Noto Sans CJK JP","fontSize":11,"color":"#7F7F7F","align":"right","baseline":"middle","dx":-2,"dy":7.5},"encoding":{"x":{"datum":1,"type":"quantitative","scale":{"domain":[-0.03,1],"nice":false,"zero":false},"axis":null},"y":{"field":"row","type":"nominal","axis":null},"text":{"field":"pct","type":"quantitative","format":".0%"}}},
  {"transform":[{"filter":"indexof(datum.row,'直近')===0"}],"mark":{"type":"rule","stroke":"#404040","strokeWidth":1},"encoding":{"y":{"field":"row","type":"nominal","bandPosition":1,"axis":null}}},
  {"transform":[{"filter":"datum.row==='header'"}],"mark":{"type":"rule","stroke":"#404040","strokeWidth":1},"encoding":{"x":{"datum":1,"type":"quantitative","scale":{"domain":[-0.03,1],"nice":false,"zero":false},"axis":null}}},
  {"transform":[{"filter":"indexof(datum.row,'直近')===0"}],"mark":{"type":"rect","xOffset":-405,"x2Offset":2,"fill":"transparent","stroke":"#C00000","strokeWidth":2.5,"cornerRadius":3},"encoding":{"x":{"datum":-0.03,"type":"quantitative","scale":{"domain":[-0.03,1],"nice":false,"zero":false},"axis":null},"x2":{"datum":1},"y":{"field":"row","type":"nominal","axis":null}}}]}
],"spacing":0,"bounds":"flush"},
{"hconcat":[
 {"width":40,"height":388,"data":{"name":"depts"},"transform":[{"filter":"datum.dept==='看護学科'"}],"layer":[
  {"mark":{"type":"rect","fill":"#FFFFFF","stroke":"#1A1A1A","strokeWidth":1.5},"encoding":{"x":{"datum":0,"type":"quantitative","scale":{"domain":[0,1],"nice":false,"zero":false},"axis":null},"x2":{"datum":1},"y":{"datum":0,"type":"quantitative","scale":{"domain":[0,1],"nice":false,"zero":false},"axis":null},"y2":{"datum":1}}},
  {"mark":{"type":"text","font":"Noto Sans CJK JP","fontSize":15,"lineHeight":16.5,"color":"#111111","baseline":"middle","align":"center"},"encoding":{"x":{"datum":0.5,"type":"quantitative","scale":{"domain":[0,1],"nice":false,"zero":false},"axis":null},"y":{"datum":0.5,"type":"quantitative","scale":{"domain":[0,1],"nice":false,"zero":false},"axis":null},"text":{"field":"chars"}}}]},
 {"width":81,"height":388,"data":{"name":"nursing_apply"},"transform":[{"filter":"datum.col==='募集人員'"}],"layer":[
  {"transform":[{"filter":"datum.row!=='header' && datum.row!=='title'"}],"mark":{"type":"rect","stroke":"#A6A6A6","strokeWidth":1},"encoding":{"x":{"datum":0,"type":"quantitative","scale":{"domain":[0,1],"nice":false,"zero":false},"axis":null},"x2":{"datum":1},"y":{"field":"row","type":"nominal","scale":{"domain":["title","header","平成27年度","平成28年度","平成29年度","平成30年度","平成31年度\n（令和元年度）","令和２年度","令和３年度","令和４年度","令和５年度","令和６年度","平均(H27～R6)","直近４か年\n平均(R3～R6)"],"paddingInner":0,"paddingOuter":0},"axis":null},"fill":{"condition":{"test":"indexof(datum.row,'平均')>=0","value":"#F2F2F2"},"value":"#FFFFFF"}}},
  {"transform":[{"filter":"datum.row==='header'"}],"mark":{"type":"rect","fill":"#FFFFFF","stroke":"#A6A6A6","strokeWidth":1},"encoding":{"x":{"datum":0,"type":"quantitative","scale":{"domain":[0,1],"nice":false,"zero":false},"axis":null},"x2":{"datum":1},"y":{"field":"row","type":"nominal","axis":null}}},
  {"transform":[{"filter":"datum.row==='title'"}],"mark":{"type":"rule","stroke":"#1A1A1A","strokeWidth":1.2},"encoding":{"y":{"field":"row","type":"nominal","bandPosition":0,"axis":null}}},
  {"transform":[{"filter":"datum.row==='title'"}],"mark":{"type":"rule","stroke":"#808080","strokeWidth":1},"encoding":{"y":{"field":"row","type":"nominal","bandPosition":1,"axis":null}}},
  {"transform":[{"filter":"datum.row!=='header' && datum.row!=='title' && indexof(datum.row,'平均')<0 && indexof(datum.row,'令和元年度')<0"}],"mark":{"type":"text","font":"Liberation Serif, Noto Sans CJK JP","fontSize":11.5,"color":"#7F7F7F","baseline":"middle","align":"center"},"encoding":{"x":{"datum":0.5,"type":"quantitative","scale":{"domain":[0,1],"nice":false,"zero":false},"axis":null},"y":{"field":"row","type":"nominal","axis":null},"text":{"field":"row"}}},
  {"transform":[{"filter":"indexof(datum.row,'令和元年度')>=0"}],"mark":{"type":"text","font":"Liberation Serif, Noto Sans CJK JP","fontSize":11.5,"color":"#7F7F7F","baseline":"middle","align":"center","lineBreak":"\n","lineHeight":13,"dy":-6.5},"encoding":{"x":{"datum":0.5,"type":"quantitative","scale":{"domain":[0,1],"nice":false,"zero":false},"axis":null},"y":{"field":"row","type":"nominal","axis":null},"text":{"field":"row"}}},
  {"transform":[{"filter":"indexof(datum.row,'平均')===0"}],"mark":{"type":"text","font":"Noto Sans CJK JP","fontSize":11,"fontWeight":"bold","color":"#1A1A1A","baseline":"middle","align":"center"},"encoding":{"x":{"datum":0.5,"type":"quantitative","scale":{"domain":[0,1],"nice":false,"zero":false},"axis":null},"y":{"field":"row","type":"nominal","axis":null},"text":{"field":"row"}}},
  {"transform":[{"filter":"indexof(datum.row,'直近')===0"}],"mark":{"type":"text","font":"Noto Sans CJK JP","fontSize":11,"fontWeight":"bold","color":"#1A1A1A","baseline":"middle","align":"center","lineBreak":"\n","lineHeight":13,"dy":-6.5},"encoding":{"x":{"datum":0.5,"type":"quantitative","scale":{"domain":[0,1],"nice":false,"zero":false},"axis":null},"y":{"field":"row","type":"nominal","axis":null},"text":{"field":"row"}}},
  {"transform":[{"filter":"datum.row==='header'"}],"mark":{"type":"text","font":"Noto Sans CJK JP","fontSize":11.5,"color":"#7F7F7F","baseline":"middle","align":"center"},"encoding":{"x":{"datum":0.5,"type":"quantitative","scale":{"domain":[0,1],"nice":false,"zero":false},"axis":null},"y":{"field":"row","type":"nominal","axis":null},"text":{"value":"入学年度"}}},
  {"transform":[{"filter":"indexof(datum.row,'直近')===0"}],"mark":{"type":"rule","stroke":"#404040","strokeWidth":1},"encoding":{"y":{"field":"row","type":"nominal","bandPosition":1,"axis":null}}}]},
 {"width":50,"height":388,"data":{"name":"nursing_apply"},"transform":[{"filter":"datum.col==='募集人員'"}],"layer":[
  {"transform":[{"filter":"datum.row!=='header' && datum.row!=='title'"}],"mark":{"type":"rect","stroke":"#A6A6A6","strokeWidth":1},"encoding":{"x":{"datum":-0.03,"type":"quantitative","scale":{"domain":[-0.03,1],"nice":false,"zero":false},"axis":null},"x2":{"datum":1},"y":{"field":"row","type":"nominal","scale":{"domain":["title","header","平成27年度","平成28年度","平成29年度","平成30年度","平成31年度\n（令和元年度）","令和２年度","令和３年度","令和４年度","令和５年度","令和６年度","平均(H27～R6)","直近４か年\n平均(R3～R6)"],"paddingInner":0,"paddingOuter":0},"axis":null},"fill":{"condition":{"test":"indexof(datum.row,'平均')>=0","value":"#F2F2F2"},"value":"#FFFFFF"}}},
  {"transform":[{"filter":"datum.row==='header'"}],"mark":{"type":"rect","fill":"#FFFFFF","stroke":"#A6A6A6","strokeWidth":1},"encoding":{"x":{"datum":-0.03,"type":"quantitative","scale":{"domain":[-0.03,1],"nice":false,"zero":false},"axis":null},"x2":{"datum":1},"y":{"field":"row","type":"nominal","axis":null}}},
  {"transform":[{"filter":"datum.row==='title'"}],"mark":{"type":"rule","stroke":"#1A1A1A","strokeWidth":1.2},"encoding":{"y":{"field":"row","type":"nominal","bandPosition":0,"axis":null}}},
  {"transform":[{"filter":"datum.row==='title'"}],"mark":{"type":"rule","stroke":"#808080","strokeWidth":1},"encoding":{"y":{"field":"row","type":"nominal","bandPosition":1,"axis":null}}},
  {"transform":[{"filter":"datum.row==='header'"}],"mark":{"type":"text","font":"Noto Sans CJK JP","fontSize":11.5,"color":"#7F7F7F","baseline":"middle","align":"center"},"encoding":{"x":{"datum":0.485,"type":"quantitative","scale":{"domain":[-0.03,1],"nice":false,"zero":false},"axis":null},"y":{"field":"row","type":"nominal","axis":null},"text":{"field":"col"}}},
  {"transform":[{"filter":"isValid(datum.label)"}],"mark":{"type":"text","font":"Noto Sans CJK JP","fontSize":12.5,"fontWeight":"bold","color":"#404040","baseline":"middle","align":"center","dx":9.5},"encoding":{"x":{"datum":1,"type":"quantitative","scale":{"domain":[-0.03,1],"nice":false,"zero":false},"axis":null},"y":{"field":"row","type":"nominal","axis":null},"text":{"field":"label"}}},
  {"transform":[{"filter":"isValid(datum.n) && indexof(datum.row,'平均')<0"}],"mark":{"type":"text","font":"Liberation Serif, Noto Sans CJK JP","fontSize":11.5,"color":"#7F7F7F","align":"right","baseline":"middle","dx":-6.5,"dy":-7},"encoding":{"x":{"datum":1,"type":"quantitative","scale":{"domain":[-0.03,1],"nice":false,"zero":false},"axis":null},"y":{"field":"row","type":"nominal","axis":null},"text":{"field":"n","type":"quantitative","format":"d"}}},
  {"transform":[{"filter":"isValid(datum.n) && indexof(datum.row,'平均')>=0"}],"mark":{"type":"text","font":"Liberation Serif, Noto Sans CJK JP","fontSize":11.5,"color":"#7F7F7F","align":"right","baseline":"middle","dx":-6.5,"dy":-7},"encoding":{"x":{"datum":1,"type":"quantitative","scale":{"domain":[-0.03,1],"nice":false,"zero":false},"axis":null},"y":{"field":"row","type":"nominal","axis":null},"text":{"field":"n","type":"quantitative","format":".1f"}}},
  {"transform":[{"filter":"indexof(datum.row,'直近')===0"}],"mark":{"type":"rule","stroke":"#404040","strokeWidth":1},"encoding":{"y":{"field":"row","type":"nominal","bandPosition":1,"axis":null}}}]},
 {"width":50,"height":388,"data":{"name":"nursing_apply"},"transform":[{"filter":"datum.col==='志願者数'"}],"layer":[
  {"transform":[{"filter":"datum.row!=='header' && datum.row!=='title'"}],"mark":{"type":"rect","stroke":"#A6A6A6","strokeWidth":1},"encoding":{"x":{"datum":-0.03,"type":"quantitative","scale":{"domain":[-0.03,1],"nice":false,"zero":false},"axis":null},"x2":{"datum":1},"y":{"field":"row","type":"nominal","scale":{"domain":["title","header","平成27年度","平成28年度","平成29年度","平成30年度","平成31年度\n（令和元年度）","令和２年度","令和３年度","令和４年度","令和５年度","令和６年度","平均(H27～R6)","直近４か年\n平均(R3～R6)"],"paddingInner":0,"paddingOuter":0},"axis":null},"fill":{"condition":{"test":"indexof(datum.row,'平均')>=0","value":"#F2F2F2"},"value":"#FFFFFF"}}},
  {"transform":[{"filter":"datum.row==='header'"}],"mark":{"type":"rect","fill":"#FFFFFF","stroke":"#A6A6A6","strokeWidth":1},"encoding":{"x":{"datum":-0.03,"type":"quantitative","scale":{"domain":[-0.03,1],"nice":false,"zero":false},"axis":null},"x2":{"datum":1},"y":{"field":"row","type":"nominal","axis":null}}},
  {"transform":[{"filter":"datum.row==='title'"}],"mark":{"type":"rule","stroke":"#1A1A1A","strokeWidth":1.2},"encoding":{"y":{"field":"row","type":"nominal","bandPosition":0,"axis":null}}},
  {"transform":[{"filter":"datum.row==='title'"}],"mark":{"type":"rule","stroke":"#808080","strokeWidth":1},"encoding":{"y":{"field":"row","type":"nominal","bandPosition":1,"axis":null}}},
  {"transform":[{"filter":"datum.row==='header'"}],"mark":{"type":"text","font":"Noto Sans CJK JP","fontSize":11.5,"fontWeight":"bold","color":"#1A1A1A","baseline":"middle","align":"center"},"encoding":{"x":{"datum":0.485,"type":"quantitative","scale":{"domain":[-0.03,1],"nice":false,"zero":false},"axis":null},"y":{"field":"row","type":"nominal","axis":null},"text":{"field":"col"}}},
  {"transform":[{"filter":"isValid(datum.n) && indexof(datum.row,'平均')<0"}],"mark":{"type":"text","font":"Liberation Sans Narrow, Noto Sans CJK JP","fontSize":12,"color":"#111111","align":"right","baseline":"middle","dx":-6.5,"dy":-7},"encoding":{"x":{"datum":1,"type":"quantitative","scale":{"domain":[-0.03,1],"nice":false,"zero":false},"axis":null},"y":{"field":"row","type":"nominal","axis":null},"text":{"field":"n","type":"quantitative","format":"d"}}},
  {"transform":[{"filter":"isValid(datum.n) && indexof(datum.row,'平均')>=0"}],"mark":{"type":"text","font":"Liberation Sans Narrow, Noto Sans CJK JP","fontSize":12,"color":"#111111","align":"right","baseline":"middle","dx":-6.5,"dy":-7},"encoding":{"x":{"datum":1,"type":"quantitative","scale":{"domain":[-0.03,1],"nice":false,"zero":false},"axis":null},"y":{"field":"row","type":"nominal","axis":null},"text":{"field":"n","type":"quantitative","format":".1f"}}},
  {"transform":[{"filter":"indexof(datum.row,'直近')===0"}],"mark":{"type":"rule","stroke":"#404040","strokeWidth":1},"encoding":{"y":{"field":"row","type":"nominal","bandPosition":1,"axis":null}}}]},
 {"width":50,"height":388,"data":{"name":"nursing_apply"},"transform":[{"filter":"datum.col==='県内'"}],"layer":[
  {"transform":[{"filter":"datum.row!=='header' && datum.row!=='title'"}],"mark":{"type":"rect","stroke":"#A6A6A6","strokeWidth":1},"encoding":{"x":{"datum":-0.03,"type":"quantitative","scale":{"domain":[-0.03,1],"nice":false,"zero":false},"axis":null},"x2":{"datum":1},"y":{"field":"row","type":"nominal","scale":{"domain":["title","header","平成27年度","平成28年度","平成29年度","平成30年度","平成31年度\n（令和元年度）","令和２年度","令和３年度","令和４年度","令和５年度","令和６年度","平均(H27～R6)","直近４か年\n平均(R3～R6)"],"paddingInner":0,"paddingOuter":0},"axis":null},"fill":{"condition":{"test":"indexof(datum.row,'平均')>=0","value":"#F2F2F2"},"value":"#FFFFFF"}}},
  {"transform":[{"filter":"datum.row==='title'"}],"mark":{"type":"rule","stroke":"#1A1A1A","strokeWidth":1.2},"encoding":{"y":{"field":"row","type":"nominal","bandPosition":0,"axis":null}}},
  {"transform":[{"filter":"datum.row==='title'"}],"mark":{"type":"rule","stroke":"#808080","strokeWidth":1},"encoding":{"y":{"field":"row","type":"nominal","bandPosition":1,"axis":null}}},
  {"transform":[{"filter":"datum.row==='header'"}],"mark":{"type":"rule","stroke":"#A6A6A6","strokeWidth":1},"encoding":{"y":{"field":"row","type":"nominal","bandPosition":0.5,"axis":null}}},
  {"transform":[{"filter":"datum.row==='header'"}],"mark":{"type":"tick","orient":"vertical","size":13.86,"thickness":1,"color":"#A6A6A6","opacity":1},"encoding":{"x":{"datum":1,"type":"quantitative","scale":{"domain":[-0.03,1],"nice":false,"zero":false},"axis":null},"y":{"field":"row","type":"nominal","bandPosition":0.75,"axis":null}}},
  {"transform":[{"filter":"isValid(datum.pct)"}],"mark":{"type":"bar","height":{"band":0.43},"yOffset":6,"fill":{"gradient":"linear","x1":0,"y1":0,"x2":1,"y2":0,"stops":[{"offset":0,"color":"#FF3333"},{"offset":0.5,"color":"#FF8080"},{"offset":1,"color":"#FFF2F2"}]},"stroke":"#FF8A8A","strokeWidth":1},"encoding":{"x":{"field":"pct","type":"quantitative","scale":{"domain":[-0.03,1],"nice":false,"zero":false},"axis":null},"y":{"field":"row","type":"nominal","axis":null}}},
  {"transform":[{"filter":"datum.row==='header'"}],"mark":{"type":"text","font":"Noto Sans CJK JP","fontSize":11.5,"color":"#1A1A1A","baseline":"middle","align":"center"},"encoding":{"x":{"datum":0.485,"type":"quantitative","scale":{"domain":[-0.03,1],"nice":false,"zero":false},"axis":null},"y":{"field":"row","type":"nominal","bandPosition":0.75,"axis":null},"text":{"field":"col"}}},
  {"transform":[{"filter":"datum.row==='header'"}],"mark":{"type":"text","font":"Noto Sans CJK JP","fontSize":11.5,"color":"#1A1A1A","baseline":"middle","align":"center"},"encoding":{"x":{"datum":1,"type":"quantitative","scale":{"domain":[-0.03,1],"nice":false,"zero":false},"axis":null},"y":{"field":"row","type":"nominal","bandPosition":0.25,"axis":null},"text":{"value":"出身高校"}}},
  {"transform":[{"filter":"isValid(datum.n) && indexof(datum.row,'平均')<0"}],"mark":{"type":"text","font":"Liberation Sans Narrow, Noto Sans CJK JP","fontSize":12,"color":"#111111","align":"right","baseline":"middle","dx":-6.5,"dy":-7},"encoding":{"x":{"datum":1,"type":"quantitative","scale":{"domain":[-0.03,1],"nice":false,"zero":false},"axis":null},"y":{"field":"row","type":"nominal","axis":null},"text":{"field":"n","type":"quantitative","format":"d"}}},
  {"transform":[{"filter":"isValid(datum.n) && indexof(datum.row,'平均')>=0"}],"mark":{"type":"text","font":"Liberation Sans Narrow, Noto Sans CJK JP","fontSize":12,"color":"#111111","align":"right","baseline":"middle","dx":-6.5,"dy":-7},"encoding":{"x":{"datum":1,"type":"quantitative","scale":{"domain":[-0.03,1],"nice":false,"zero":false},"axis":null},"y":{"field":"row","type":"nominal","axis":null},"text":{"field":"n","type":"quantitative","format":".1f"}}},
  {"transform":[{"filter":"isValid(datum.pct)"}],"mark":{"type":"text","font":"Liberation Sans Narrow, Noto Sans CJK JP","fontSize":11.5,"color":"#111111","align":"right","baseline":"middle","dx":-2,"dy":7.5},"encoding":{"x":{"datum":1,"type":"quantitative","scale":{"domain":[-0.03,1],"nice":false,"zero":false},"axis":null},"y":{"field":"row","type":"nominal","axis":null},"text":{"field":"pct","type":"quantitative","format":".0%"}}},
  {"transform":[{"filter":"indexof(datum.row,'直近')===0"}],"mark":{"type":"rule","stroke":"#404040","strokeWidth":1},"encoding":{"y":{"field":"row","type":"nominal","bandPosition":1,"axis":null}}}]},
 {"width":50,"height":388,"data":{"name":"nursing_apply"},"transform":[{"filter":"datum.col==='県外'"}],"layer":[
  {"transform":[{"filter":"datum.row!=='header' && datum.row!=='title'"}],"mark":{"type":"rect","stroke":"#A6A6A6","strokeWidth":1},"encoding":{"x":{"datum":-0.03,"type":"quantitative","scale":{"domain":[-0.03,1],"nice":false,"zero":false},"axis":null},"x2":{"datum":1},"y":{"field":"row","type":"nominal","scale":{"domain":["title","header","平成27年度","平成28年度","平成29年度","平成30年度","平成31年度\n（令和元年度）","令和２年度","令和３年度","令和４年度","令和５年度","令和６年度","平均(H27～R6)","直近４か年\n平均(R3～R6)"],"paddingInner":0,"paddingOuter":0},"axis":null},"fill":{"condition":{"test":"indexof(datum.row,'平均')>=0","value":"#F2F2F2"},"value":"#FFFFFF"}}},
  {"transform":[{"filter":"datum.row==='title'"}],"mark":{"type":"rule","stroke":"#1A1A1A","strokeWidth":1.2},"encoding":{"y":{"field":"row","type":"nominal","bandPosition":0,"axis":null}}},
  {"transform":[{"filter":"datum.row==='title'"}],"mark":{"type":"rule","stroke":"#808080","strokeWidth":1},"encoding":{"y":{"field":"row","type":"nominal","bandPosition":1,"axis":null}}},
  {"transform":[{"filter":"datum.row==='header'"}],"mark":{"type":"rule","stroke":"#A6A6A6","strokeWidth":1},"encoding":{"y":{"field":"row","type":"nominal","bandPosition":0.5,"axis":null}}},
  {"transform":[{"filter":"isValid(datum.pct)"}],"mark":{"type":"bar","height":{"band":0.43},"yOffset":6,"fill":{"gradient":"linear","x1":0,"y1":0,"x2":1,"y2":0,"stops":[{"offset":0,"color":"#FF3333"},{"offset":0.5,"color":"#FF8080"},{"offset":1,"color":"#FFF2F2"}]},"stroke":"#FF8A8A","strokeWidth":1},"encoding":{"x":{"field":"pct","type":"quantitative","scale":{"domain":[-0.03,1],"nice":false,"zero":false},"axis":null},"y":{"field":"row","type":"nominal","axis":null}}},
  {"transform":[{"filter":"datum.row==='header'"}],"mark":{"type":"text","font":"Noto Sans CJK JP","fontSize":11.5,"color":"#7F7F7F","baseline":"middle","align":"center"},"encoding":{"x":{"datum":0.485,"type":"quantitative","scale":{"domain":[-0.03,1],"nice":false,"zero":false},"axis":null},"y":{"field":"row","type":"nominal","bandPosition":0.75,"axis":null},"text":{"field":"col"}}},
  {"transform":[{"filter":"isValid(datum.n) && indexof(datum.row,'平均')<0"}],"mark":{"type":"text","font":"Liberation Serif, Noto Sans CJK JP","fontSize":11.5,"color":"#7F7F7F","align":"right","baseline":"middle","dx":-6.5,"dy":-7},"encoding":{"x":{"datum":1,"type":"quantitative","scale":{"domain":[-0.03,1],"nice":false,"zero":false},"axis":null},"y":{"field":"row","type":"nominal","axis":null},"text":{"field":"n","type":"quantitative","format":"d"}}},
  {"transform":[{"filter":"isValid(datum.n) && indexof(datum.row,'平均')>=0"}],"mark":{"type":"text","font":"Liberation Serif, Noto Sans CJK JP","fontSize":11.5,"color":"#7F7F7F","align":"right","baseline":"middle","dx":-6.5,"dy":-7},"encoding":{"x":{"datum":1,"type":"quantitative","scale":{"domain":[-0.03,1],"nice":false,"zero":false},"axis":null},"y":{"field":"row","type":"nominal","axis":null},"text":{"field":"n","type":"quantitative","format":".1f"}}},
  {"transform":[{"filter":"isValid(datum.pct)"}],"mark":{"type":"text","font":"Liberation Serif, Noto Sans CJK JP","fontSize":11,"color":"#7F7F7F","align":"right","baseline":"middle","dx":-2,"dy":7.5},"encoding":{"x":{"datum":1,"type":"quantitative","scale":{"domain":[-0.03,1],"nice":false,"zero":false},"axis":null},"y":{"field":"row","type":"nominal","axis":null},"text":{"field":"pct","type":"quantitative","format":".0%"}}},
  {"transform":[{"filter":"indexof(datum.row,'直近')===0"}],"mark":{"type":"rule","stroke":"#404040","strokeWidth":1},"encoding":{"y":{"field":"row","type":"nominal","bandPosition":1,"axis":null}}},
  {"transform":[{"filter":"datum.row==='header'"}],"mark":{"type":"rule","stroke":"#404040","strokeWidth":1},"encoding":{"x":{"datum":1,"type":"quantitative","scale":{"domain":[-0.03,1],"nice":false,"zero":false},"axis":null}}}]},
 {"width":22,"height":388,"data":{"name":"nursing_enroll"},"transform":[{"filter":"datum.col==='入学者数' && datum.row==='令和２年度'"}],
  "mark":{"type":"point","shape":"M0,-1L0.166,0L0,1Z","size":76808,"filled":true,"color":"#FF4B4B","opacity":1,"strokeWidth":0},
  "encoding":{"x":{"datum":0,"type":"quantitative","scale":{"domain":[0,1],"nice":false,"zero":false},"axis":null},"y":{"field":"row","type":"nominal","bandPosition":0,"scale":{"domain":["title","header","平成27年度","平成28年度","平成29年度","平成30年度","平成31年度\n（令和元年度）","令和２年度","令和３年度","令和４年度","令和５年度","令和６年度","平均(H27～R6)","直近４か年\n平均(R3～R6)"],"paddingInner":0,"paddingOuter":0},"axis":null}}},
 {"width":47,"height":388,"data":{"name":"nursing_enroll"},"transform":[{"filter":"datum.col==='入学者数'"}],"layer":[
  {"transform":[{"filter":"datum.row!=='header' && datum.row!=='title'"}],"mark":{"type":"rect","stroke":"#A6A6A6","strokeWidth":1},"encoding":{"x":{"datum":-0.03,"type":"quantitative","scale":{"domain":[-0.03,1],"nice":false,"zero":false},"axis":null},"x2":{"datum":1},"y":{"field":"row","type":"nominal","scale":{"domain":["title","header","平成27年度","平成28年度","平成29年度","平成30年度","平成31年度\n（令和元年度）","令和２年度","令和３年度","令和４年度","令和５年度","令和６年度","平均(H27～R6)","直近４か年\n平均(R3～R6)"],"paddingInner":0,"paddingOuter":0},"axis":null},"fill":{"condition":{"test":"indexof(datum.row,'平均')>=0","value":"#F2F2F2"},"value":"#FFFFFF"}}},
  {"transform":[{"filter":"datum.row==='header'"}],"mark":{"type":"rect","fill":"#FFFFFF","stroke":"#A6A6A6","strokeWidth":1},"encoding":{"x":{"datum":-0.03,"type":"quantitative","scale":{"domain":[-0.03,1],"nice":false,"zero":false},"axis":null},"x2":{"datum":1},"y":{"field":"row","type":"nominal","axis":null}}},
  {"transform":[{"filter":"datum.row==='title'"}],"mark":{"type":"rule","stroke":"#1A1A1A","strokeWidth":1.2},"encoding":{"y":{"field":"row","type":"nominal","bandPosition":0,"axis":null}}},
  {"transform":[{"filter":"datum.row==='title'"}],"mark":{"type":"rule","stroke":"#808080","strokeWidth":1},"encoding":{"y":{"field":"row","type":"nominal","bandPosition":1,"axis":null}}},
  {"transform":[{"filter":"datum.row==='header'"}],"mark":{"type":"text","font":"Noto Sans CJK JP","fontSize":11.5,"fontWeight":"bold","color":"#1A1A1A","baseline":"middle","align":"center"},"encoding":{"x":{"datum":0.485,"type":"quantitative","scale":{"domain":[-0.03,1],"nice":false,"zero":false},"axis":null},"y":{"field":"row","type":"nominal","axis":null},"text":{"field":"col"}}},
  {"transform":[{"filter":"isValid(datum.n) && indexof(datum.row,'平均')<0"}],"mark":{"type":"text","font":"Liberation Sans Narrow, Noto Sans CJK JP","fontSize":12,"color":"#111111","align":"right","baseline":"middle","dx":-6.5,"dy":-7},"encoding":{"x":{"datum":1,"type":"quantitative","scale":{"domain":[-0.03,1],"nice":false,"zero":false},"axis":null},"y":{"field":"row","type":"nominal","axis":null},"text":{"field":"n","type":"quantitative","format":"d"}}},
  {"transform":[{"filter":"isValid(datum.n) && indexof(datum.row,'平均')>=0"}],"mark":{"type":"text","font":"Liberation Sans Narrow, Noto Sans CJK JP","fontSize":12,"color":"#111111","align":"right","baseline":"middle","dx":-6.5,"dy":-7},"encoding":{"x":{"datum":1,"type":"quantitative","scale":{"domain":[-0.03,1],"nice":false,"zero":false},"axis":null},"y":{"field":"row","type":"nominal","axis":null},"text":{"field":"n","type":"quantitative","format":".1f"}}},
  {"transform":[{"filter":"indexof(datum.row,'直近')===0"}],"mark":{"type":"rule","stroke":"#404040","strokeWidth":1},"encoding":{"y":{"field":"row","type":"nominal","bandPosition":1,"axis":null}}},
  {"transform":[{"filter":"datum.row==='header'"}],"mark":{"type":"rule","stroke":"#404040","strokeWidth":1},"encoding":{"x":{"datum":-0.03,"type":"quantitative","scale":{"domain":[-0.03,1],"nice":false,"zero":false},"axis":null}}}]},
 {"width":47,"height":388,"data":{"name":"nursing_enroll"},"transform":[{"filter":"datum.col==='県内'"}],"layer":[
  {"transform":[{"filter":"datum.row!=='header' && datum.row!=='title'"}],"mark":{"type":"rect","stroke":"#A6A6A6","strokeWidth":1},"encoding":{"x":{"datum":-0.03,"type":"quantitative","scale":{"domain":[-0.03,1],"nice":false,"zero":false},"axis":null},"x2":{"datum":1},"y":{"field":"row","type":"nominal","scale":{"domain":["title","header","平成27年度","平成28年度","平成29年度","平成30年度","平成31年度\n（令和元年度）","令和２年度","令和３年度","令和４年度","令和５年度","令和６年度","平均(H27～R6)","直近４か年\n平均(R3～R6)"],"paddingInner":0,"paddingOuter":0},"axis":null},"fill":{"condition":{"test":"indexof(datum.row,'平均')>=0","value":"#F2F2F2"},"value":"#FFFFFF"}}},
  {"transform":[{"filter":"datum.row==='title'"}],"mark":{"type":"rule","stroke":"#1A1A1A","strokeWidth":1.2},"encoding":{"y":{"field":"row","type":"nominal","bandPosition":0,"axis":null}}},
  {"transform":[{"filter":"datum.row==='title'"}],"mark":{"type":"rule","stroke":"#808080","strokeWidth":1},"encoding":{"y":{"field":"row","type":"nominal","bandPosition":1,"axis":null}}},
  {"transform":[{"filter":"datum.row==='header'"}],"mark":{"type":"rule","stroke":"#A6A6A6","strokeWidth":1},"encoding":{"y":{"field":"row","type":"nominal","bandPosition":0.5,"axis":null}}},
  {"transform":[{"filter":"datum.row==='header'"}],"mark":{"type":"tick","orient":"vertical","size":13.86,"thickness":1,"color":"#A6A6A6","opacity":1},"encoding":{"x":{"datum":1,"type":"quantitative","scale":{"domain":[-0.03,1],"nice":false,"zero":false},"axis":null},"y":{"field":"row","type":"nominal","bandPosition":0.75,"axis":null}}},
  {"transform":[{"filter":"isValid(datum.pct)"}],"mark":{"type":"bar","height":{"band":0.43},"yOffset":6,"fill":{"gradient":"linear","x1":0,"y1":0,"x2":1,"y2":0,"stops":[{"offset":0,"color":"#0563C1"},{"offset":0.5,"color":"#5B9BD5"},{"offset":1,"color":"#EEF5FB"}]},"stroke":"#4A90D0","strokeWidth":1},"encoding":{"x":{"field":"pct","type":"quantitative","scale":{"domain":[-0.03,1],"nice":false,"zero":false},"axis":null},"y":{"field":"row","type":"nominal","axis":null}}},
  {"transform":[{"filter":"isValid(datum.label)"}],"mark":{"type":"text","font":"Noto Sans CJK JP","fontSize":12.5,"fontWeight":"bold","color":"#404040","baseline":"middle","align":"center"},"encoding":{"x":{"datum":0.485,"type":"quantitative","scale":{"domain":[-0.03,1],"nice":false,"zero":false},"axis":null},"y":{"field":"row","type":"nominal","axis":null},"text":{"field":"label"}}},
  {"transform":[{"filter":"datum.row==='header'"}],"mark":{"type":"text","font":"Noto Sans CJK JP","fontSize":11.5,"color":"#1A1A1A","baseline":"middle","align":"center"},"encoding":{"x":{"datum":0.485,"type":"quantitative","scale":{"domain":[-0.03,1],"nice":false,"zero":false},"axis":null},"y":{"field":"row","type":"nominal","bandPosition":0.75,"axis":null},"text":{"field":"col"}}},
  {"transform":[{"filter":"datum.row==='header'"}],"mark":{"type":"text","font":"Noto Sans CJK JP","fontSize":11.5,"color":"#1A1A1A","baseline":"middle","align":"center"},"encoding":{"x":{"datum":1,"type":"quantitative","scale":{"domain":[-0.03,1],"nice":false,"zero":false},"axis":null},"y":{"field":"row","type":"nominal","bandPosition":0.25,"axis":null},"text":{"value":"出身高校"}}},
  {"transform":[{"filter":"isValid(datum.n) && indexof(datum.row,'平均')<0"}],"mark":{"type":"text","font":"Liberation Sans Narrow, Noto Sans CJK JP","fontSize":12,"color":"#111111","align":"right","baseline":"middle","dx":-6.5,"dy":-7},"encoding":{"x":{"datum":1,"type":"quantitative","scale":{"domain":[-0.03,1],"nice":false,"zero":false},"axis":null},"y":{"field":"row","type":"nominal","axis":null},"text":{"field":"n","type":"quantitative","format":"d"}}},
  {"transform":[{"filter":"isValid(datum.n) && indexof(datum.row,'平均')>=0"}],"mark":{"type":"text","font":"Liberation Sans Narrow, Noto Sans CJK JP","fontSize":12,"color":"#111111","align":"right","baseline":"middle","dx":-6.5,"dy":-7},"encoding":{"x":{"datum":1,"type":"quantitative","scale":{"domain":[-0.03,1],"nice":false,"zero":false},"axis":null},"y":{"field":"row","type":"nominal","axis":null},"text":{"field":"n","type":"quantitative","format":".1f"}}},
  {"transform":[{"filter":"isValid(datum.pct)"}],"mark":{"type":"text","font":"Liberation Sans Narrow, Noto Sans CJK JP","fontSize":11.5,"color":"#111111","align":"right","baseline":"middle","dx":-2,"dy":7.5},"encoding":{"x":{"datum":1,"type":"quantitative","scale":{"domain":[-0.03,1],"nice":false,"zero":false},"axis":null},"y":{"field":"row","type":"nominal","axis":null},"text":{"field":"pct","type":"quantitative","format":".0%"}}},
  {"transform":[{"filter":"indexof(datum.row,'直近')===0"}],"mark":{"type":"rule","stroke":"#404040","strokeWidth":1},"encoding":{"y":{"field":"row","type":"nominal","bandPosition":1,"axis":null}}}]},
 {"width":47,"height":388,"data":{"name":"nursing_enroll"},"transform":[{"filter":"datum.col==='県外'"}],"layer":[
  {"transform":[{"filter":"datum.row!=='header' && datum.row!=='title'"}],"mark":{"type":"rect","stroke":"#A6A6A6","strokeWidth":1},"encoding":{"x":{"datum":-0.03,"type":"quantitative","scale":{"domain":[-0.03,1],"nice":false,"zero":false},"axis":null},"x2":{"datum":1},"y":{"field":"row","type":"nominal","scale":{"domain":["title","header","平成27年度","平成28年度","平成29年度","平成30年度","平成31年度\n（令和元年度）","令和２年度","令和３年度","令和４年度","令和５年度","令和６年度","平均(H27～R6)","直近４か年\n平均(R3～R6)"],"paddingInner":0,"paddingOuter":0},"axis":null},"fill":{"condition":{"test":"indexof(datum.row,'平均')>=0","value":"#F2F2F2"},"value":"#FFFFFF"}}},
  {"transform":[{"filter":"datum.row==='title'"}],"mark":{"type":"rule","stroke":"#1A1A1A","strokeWidth":1.2},"encoding":{"y":{"field":"row","type":"nominal","bandPosition":0,"axis":null}}},
  {"transform":[{"filter":"datum.row==='title'"}],"mark":{"type":"rule","stroke":"#808080","strokeWidth":1},"encoding":{"y":{"field":"row","type":"nominal","bandPosition":1,"axis":null}}},
  {"transform":[{"filter":"datum.row==='header'"}],"mark":{"type":"rule","stroke":"#A6A6A6","strokeWidth":1},"encoding":{"y":{"field":"row","type":"nominal","bandPosition":0.5,"axis":null}}},
  {"transform":[{"filter":"isValid(datum.pct)"}],"mark":{"type":"bar","height":{"band":0.43},"yOffset":6,"fill":{"gradient":"linear","x1":0,"y1":0,"x2":1,"y2":0,"stops":[{"offset":0,"color":"#0563C1"},{"offset":0.5,"color":"#5B9BD5"},{"offset":1,"color":"#EEF5FB"}]},"stroke":"#4A90D0","strokeWidth":1},"encoding":{"x":{"field":"pct","type":"quantitative","scale":{"domain":[-0.03,1],"nice":false,"zero":false},"axis":null},"y":{"field":"row","type":"nominal","axis":null}}},
  {"transform":[{"filter":"datum.row==='header'"}],"mark":{"type":"text","font":"Noto Sans CJK JP","fontSize":11.5,"color":"#7F7F7F","baseline":"middle","align":"center"},"encoding":{"x":{"datum":0.485,"type":"quantitative","scale":{"domain":[-0.03,1],"nice":false,"zero":false},"axis":null},"y":{"field":"row","type":"nominal","bandPosition":0.75,"axis":null},"text":{"field":"col"}}},
  {"transform":[{"filter":"isValid(datum.n) && indexof(datum.row,'平均')<0"}],"mark":{"type":"text","font":"Liberation Serif, Noto Sans CJK JP","fontSize":11.5,"color":"#7F7F7F","align":"right","baseline":"middle","dx":-6.5,"dy":-7},"encoding":{"x":{"datum":1,"type":"quantitative","scale":{"domain":[-0.03,1],"nice":false,"zero":false},"axis":null},"y":{"field":"row","type":"nominal","axis":null},"text":{"field":"n","type":"quantitative","format":"d"}}},
  {"transform":[{"filter":"isValid(datum.n) && indexof(datum.row,'平均')>=0"}],"mark":{"type":"text","font":"Liberation Serif, Noto Sans CJK JP","fontSize":11.5,"color":"#7F7F7F","align":"right","baseline":"middle","dx":-6.5,"dy":-7},"encoding":{"x":{"datum":1,"type":"quantitative","scale":{"domain":[-0.03,1],"nice":false,"zero":false},"axis":null},"y":{"field":"row","type":"nominal","axis":null},"text":{"field":"n","type":"quantitative","format":".1f"}}},
  {"transform":[{"filter":"isValid(datum.pct)"}],"mark":{"type":"text","font":"Liberation Serif, Noto Sans CJK JP","fontSize":11,"color":"#7F7F7F","align":"right","baseline":"middle","dx":-2,"dy":7.5},"encoding":{"x":{"datum":1,"type":"quantitative","scale":{"domain":[-0.03,1],"nice":false,"zero":false},"axis":null},"y":{"field":"row","type":"nominal","axis":null},"text":{"field":"pct","type":"quantitative","format":".0%"}}},
  {"transform":[{"filter":"indexof(datum.row,'直近')===0"}],"mark":{"type":"rule","stroke":"#404040","strokeWidth":1},"encoding":{"y":{"field":"row","type":"nominal","bandPosition":1,"axis":null}}},
  {"transform":[{"filter":"datum.row==='header'"}],"mark":{"type":"rule","stroke":"#404040","strokeWidth":1},"encoding":{"x":{"datum":1,"type":"quantitative","scale":{"domain":[-0.03,1],"nice":false,"zero":false},"axis":null}}},
  {"transform":[{"filter":"indexof(datum.row,'直近')===0"}],"mark":{"type":"rect","xOffset":-397,"x2Offset":0.5,"fill":"transparent","stroke":"#C00000","strokeWidth":2.5,"cornerRadius":3},"encoding":{"x":{"datum":-0.03,"type":"quantitative","scale":{"domain":[-0.03,1],"nice":false,"zero":false},"axis":null},"x2":{"datum":1},"y":{"field":"row","type":"nominal","axis":null}}}]}
],"spacing":0,"bounds":"flush"}
],"spacing":74},
{"hconcat":[
 {"width":40,"height":383,"data":{"name":"depts"},"transform":[{"filter":"datum.dept==='栄養学科'"}],"layer":[
  {"mark":{"type":"rect","fill":"#FFFFFF","stroke":"#1A1A1A","strokeWidth":1.5},"encoding":{"x":{"datum":0,"type":"quantitative","scale":{"domain":[0,1],"nice":false,"zero":false},"axis":null},"x2":{"datum":1},"y":{"datum":0,"type":"quantitative","scale":{"domain":[0,1],"nice":false,"zero":false},"axis":null},"y2":{"datum":1}}},
  {"mark":{"type":"text","font":"Noto Sans CJK JP","fontSize":15,"lineHeight":16.5,"color":"#111111","baseline":"middle","align":"center"},"encoding":{"x":{"datum":0.5,"type":"quantitative","scale":{"domain":[0,1],"nice":false,"zero":false},"axis":null},"y":{"datum":0.5,"type":"quantitative","scale":{"domain":[0,1],"nice":false,"zero":false},"axis":null},"text":{"field":"chars"}}}]},
 {"width":81,"height":383,"data":{"name":"nutrition_apply"},"transform":[{"filter":"datum.col==='募集人員'"}],"layer":[
  {"transform":[{"filter":"datum.row!=='header' && datum.row!=='title'"}],"mark":{"type":"rect","stroke":"#A6A6A6","strokeWidth":1},"encoding":{"x":{"datum":0,"type":"quantitative","scale":{"domain":[0,1],"nice":false,"zero":false},"axis":null},"x2":{"datum":1},"y":{"field":"row","type":"nominal","scale":{"domain":["title","header","平成27年度","平成28年度","平成29年度","平成30年度","平成31年度\n（令和元年度）","令和２年度","令和３年度","令和４年度","令和５年度","令和６年度","平均(H27～R6)","直近４か年\n平均(R3～R6)"],"paddingInner":0,"paddingOuter":0},"axis":null},"fill":{"condition":{"test":"indexof(datum.row,'平均')>=0","value":"#F2F2F2"},"value":"#FFFFFF"}}},
  {"transform":[{"filter":"datum.row==='header'"}],"mark":{"type":"rect","fill":"#FFFFFF","stroke":"#A6A6A6","strokeWidth":1},"encoding":{"x":{"datum":0,"type":"quantitative","scale":{"domain":[0,1],"nice":false,"zero":false},"axis":null},"x2":{"datum":1},"y":{"field":"row","type":"nominal","axis":null}}},
  {"transform":[{"filter":"datum.row==='title'"}],"mark":{"type":"rule","stroke":"#1A1A1A","strokeWidth":1.2},"encoding":{"y":{"field":"row","type":"nominal","bandPosition":0,"axis":null}}},
  {"transform":[{"filter":"datum.row==='title'"}],"mark":{"type":"rule","stroke":"#808080","strokeWidth":1},"encoding":{"y":{"field":"row","type":"nominal","bandPosition":1,"axis":null}}},
  {"transform":[{"filter":"datum.row!=='header' && datum.row!=='title' && indexof(datum.row,'平均')<0 && indexof(datum.row,'令和元年度')<0"}],"mark":{"type":"text","font":"Liberation Serif, Noto Sans CJK JP","fontSize":11.5,"color":"#7F7F7F","baseline":"middle","align":"center"},"encoding":{"x":{"datum":0.5,"type":"quantitative","scale":{"domain":[0,1],"nice":false,"zero":false},"axis":null},"y":{"field":"row","type":"nominal","axis":null},"text":{"field":"row"}}},
  {"transform":[{"filter":"indexof(datum.row,'令和元年度')>=0"}],"mark":{"type":"text","font":"Liberation Serif, Noto Sans CJK JP","fontSize":11.5,"color":"#7F7F7F","baseline":"middle","align":"center","lineBreak":"\n","lineHeight":13,"dy":-6.5},"encoding":{"x":{"datum":0.5,"type":"quantitative","scale":{"domain":[0,1],"nice":false,"zero":false},"axis":null},"y":{"field":"row","type":"nominal","axis":null},"text":{"field":"row"}}},
  {"transform":[{"filter":"indexof(datum.row,'平均')===0"}],"mark":{"type":"text","font":"Noto Sans CJK JP","fontSize":11,"fontWeight":"bold","color":"#1A1A1A","baseline":"middle","align":"center"},"encoding":{"x":{"datum":0.5,"type":"quantitative","scale":{"domain":[0,1],"nice":false,"zero":false},"axis":null},"y":{"field":"row","type":"nominal","axis":null},"text":{"field":"row"}}},
  {"transform":[{"filter":"indexof(datum.row,'直近')===0"}],"mark":{"type":"text","font":"Noto Sans CJK JP","fontSize":11,"fontWeight":"bold","color":"#1A1A1A","baseline":"middle","align":"center","lineBreak":"\n","lineHeight":13,"dy":-6.5},"encoding":{"x":{"datum":0.5,"type":"quantitative","scale":{"domain":[0,1],"nice":false,"zero":false},"axis":null},"y":{"field":"row","type":"nominal","axis":null},"text":{"field":"row"}}},
  {"transform":[{"filter":"datum.row==='header'"}],"mark":{"type":"text","font":"Noto Sans CJK JP","fontSize":11.5,"color":"#7F7F7F","baseline":"middle","align":"center"},"encoding":{"x":{"datum":0.5,"type":"quantitative","scale":{"domain":[0,1],"nice":false,"zero":false},"axis":null},"y":{"field":"row","type":"nominal","axis":null},"text":{"value":"入学年度"}}},
  {"transform":[{"filter":"indexof(datum.row,'直近')===0"}],"mark":{"type":"rule","stroke":"#404040","strokeWidth":1},"encoding":{"y":{"field":"row","type":"nominal","bandPosition":1,"axis":null}}}]},
 {"width":50,"height":383,"data":{"name":"nutrition_apply"},"transform":[{"filter":"datum.col==='募集人員'"}],"layer":[
  {"transform":[{"filter":"datum.row!=='header' && datum.row!=='title'"}],"mark":{"type":"rect","stroke":"#A6A6A6","strokeWidth":1},"encoding":{"x":{"datum":-0.03,"type":"quantitative","scale":{"domain":[-0.03,1],"nice":false,"zero":false},"axis":null},"x2":{"datum":1},"y":{"field":"row","type":"nominal","scale":{"domain":["title","header","平成27年度","平成28年度","平成29年度","平成30年度","平成31年度\n（令和元年度）","令和２年度","令和３年度","令和４年度","令和５年度","令和６年度","平均(H27～R6)","直近４か年\n平均(R3～R6)"],"paddingInner":0,"paddingOuter":0},"axis":null},"fill":{"condition":{"test":"indexof(datum.row,'平均')>=0","value":"#F2F2F2"},"value":"#FFFFFF"}}},
  {"transform":[{"filter":"datum.row==='header'"}],"mark":{"type":"rect","fill":"#FFFFFF","stroke":"#A6A6A6","strokeWidth":1},"encoding":{"x":{"datum":-0.03,"type":"quantitative","scale":{"domain":[-0.03,1],"nice":false,"zero":false},"axis":null},"x2":{"datum":1},"y":{"field":"row","type":"nominal","axis":null}}},
  {"transform":[{"filter":"datum.row==='title'"}],"mark":{"type":"rule","stroke":"#1A1A1A","strokeWidth":1.2},"encoding":{"y":{"field":"row","type":"nominal","bandPosition":0,"axis":null}}},
  {"transform":[{"filter":"datum.row==='title'"}],"mark":{"type":"rule","stroke":"#808080","strokeWidth":1},"encoding":{"y":{"field":"row","type":"nominal","bandPosition":1,"axis":null}}},
  {"transform":[{"filter":"datum.row==='header'"}],"mark":{"type":"text","font":"Noto Sans CJK JP","fontSize":11.5,"color":"#7F7F7F","baseline":"middle","align":"center"},"encoding":{"x":{"datum":0.485,"type":"quantitative","scale":{"domain":[-0.03,1],"nice":false,"zero":false},"axis":null},"y":{"field":"row","type":"nominal","axis":null},"text":{"field":"col"}}},
  {"transform":[{"filter":"isValid(datum.label)"}],"mark":{"type":"text","font":"Noto Sans CJK JP","fontSize":12.5,"fontWeight":"bold","color":"#404040","baseline":"middle","align":"center","dx":9.5},"encoding":{"x":{"datum":1,"type":"quantitative","scale":{"domain":[-0.03,1],"nice":false,"zero":false},"axis":null},"y":{"field":"row","type":"nominal","axis":null},"text":{"field":"label"}}},
  {"transform":[{"filter":"isValid(datum.n) && indexof(datum.row,'平均')<0"}],"mark":{"type":"text","font":"Liberation Serif, Noto Sans CJK JP","fontSize":11.5,"color":"#7F7F7F","align":"right","baseline":"middle","dx":-6.5,"dy":-7},"encoding":{"x":{"datum":1,"type":"quantitative","scale":{"domain":[-0.03,1],"nice":false,"zero":false},"axis":null},"y":{"field":"row","type":"nominal","axis":null},"text":{"field":"n","type":"quantitative","format":"d"}}},
  {"transform":[{"filter":"isValid(datum.n) && indexof(datum.row,'平均')>=0"}],"mark":{"type":"text","font":"Liberation Serif, Noto Sans CJK JP","fontSize":11.5,"color":"#7F7F7F","align":"right","baseline":"middle","dx":-6.5,"dy":-7},"encoding":{"x":{"datum":1,"type":"quantitative","scale":{"domain":[-0.03,1],"nice":false,"zero":false},"axis":null},"y":{"field":"row","type":"nominal","axis":null},"text":{"field":"n","type":"quantitative","format":".1f"}}},
  {"transform":[{"filter":"indexof(datum.row,'直近')===0"}],"mark":{"type":"rule","stroke":"#404040","strokeWidth":1},"encoding":{"y":{"field":"row","type":"nominal","bandPosition":1,"axis":null}}}]},
 {"width":50,"height":383,"data":{"name":"nutrition_apply"},"transform":[{"filter":"datum.col==='志願者数'"}],"layer":[
  {"transform":[{"filter":"datum.row!=='header' && datum.row!=='title'"}],"mark":{"type":"rect","stroke":"#A6A6A6","strokeWidth":1},"encoding":{"x":{"datum":-0.03,"type":"quantitative","scale":{"domain":[-0.03,1],"nice":false,"zero":false},"axis":null},"x2":{"datum":1},"y":{"field":"row","type":"nominal","scale":{"domain":["title","header","平成27年度","平成28年度","平成29年度","平成30年度","平成31年度\n（令和元年度）","令和２年度","令和３年度","令和４年度","令和５年度","令和６年度","平均(H27～R6)","直近４か年\n平均(R3～R6)"],"paddingInner":0,"paddingOuter":0},"axis":null},"fill":{"condition":{"test":"indexof(datum.row,'平均')>=0","value":"#F2F2F2"},"value":"#FFFFFF"}}},
  {"transform":[{"filter":"datum.row==='header'"}],"mark":{"type":"rect","fill":"#FFFFFF","stroke":"#A6A6A6","strokeWidth":1},"encoding":{"x":{"datum":-0.03,"type":"quantitative","scale":{"domain":[-0.03,1],"nice":false,"zero":false},"axis":null},"x2":{"datum":1},"y":{"field":"row","type":"nominal","axis":null}}},
  {"transform":[{"filter":"datum.row==='title'"}],"mark":{"type":"rule","stroke":"#1A1A1A","strokeWidth":1.2},"encoding":{"y":{"field":"row","type":"nominal","bandPosition":0,"axis":null}}},
  {"transform":[{"filter":"datum.row==='title'"}],"mark":{"type":"rule","stroke":"#808080","strokeWidth":1},"encoding":{"y":{"field":"row","type":"nominal","bandPosition":1,"axis":null}}},
  {"transform":[{"filter":"datum.row==='header'"}],"mark":{"type":"text","font":"Noto Sans CJK JP","fontSize":11.5,"fontWeight":"bold","color":"#1A1A1A","baseline":"middle","align":"center"},"encoding":{"x":{"datum":0.485,"type":"quantitative","scale":{"domain":[-0.03,1],"nice":false,"zero":false},"axis":null},"y":{"field":"row","type":"nominal","axis":null},"text":{"field":"col"}}},
  {"transform":[{"filter":"isValid(datum.n) && indexof(datum.row,'平均')<0"}],"mark":{"type":"text","font":"Liberation Sans Narrow, Noto Sans CJK JP","fontSize":12,"color":"#111111","align":"right","baseline":"middle","dx":-6.5,"dy":-7},"encoding":{"x":{"datum":1,"type":"quantitative","scale":{"domain":[-0.03,1],"nice":false,"zero":false},"axis":null},"y":{"field":"row","type":"nominal","axis":null},"text":{"field":"n","type":"quantitative","format":"d"}}},
  {"transform":[{"filter":"isValid(datum.n) && indexof(datum.row,'平均')>=0"}],"mark":{"type":"text","font":"Liberation Sans Narrow, Noto Sans CJK JP","fontSize":12,"color":"#111111","align":"right","baseline":"middle","dx":-6.5,"dy":-7},"encoding":{"x":{"datum":1,"type":"quantitative","scale":{"domain":[-0.03,1],"nice":false,"zero":false},"axis":null},"y":{"field":"row","type":"nominal","axis":null},"text":{"field":"n","type":"quantitative","format":".1f"}}},
  {"transform":[{"filter":"indexof(datum.row,'直近')===0"}],"mark":{"type":"rule","stroke":"#404040","strokeWidth":1},"encoding":{"y":{"field":"row","type":"nominal","bandPosition":1,"axis":null}}}]},
 {"width":50,"height":383,"data":{"name":"nutrition_apply"},"transform":[{"filter":"datum.col==='県内'"}],"layer":[
  {"transform":[{"filter":"datum.row!=='header' && datum.row!=='title'"}],"mark":{"type":"rect","stroke":"#A6A6A6","strokeWidth":1},"encoding":{"x":{"datum":-0.03,"type":"quantitative","scale":{"domain":[-0.03,1],"nice":false,"zero":false},"axis":null},"x2":{"datum":1},"y":{"field":"row","type":"nominal","scale":{"domain":["title","header","平成27年度","平成28年度","平成29年度","平成30年度","平成31年度\n（令和元年度）","令和２年度","令和３年度","令和４年度","令和５年度","令和６年度","平均(H27～R6)","直近４か年\n平均(R3～R6)"],"paddingInner":0,"paddingOuter":0},"axis":null},"fill":{"condition":{"test":"indexof(datum.row,'平均')>=0","value":"#F2F2F2"},"value":"#FFFFFF"}}},
  {"transform":[{"filter":"datum.row==='title'"}],"mark":{"type":"rule","stroke":"#1A1A1A","strokeWidth":1.2},"encoding":{"y":{"field":"row","type":"nominal","bandPosition":0,"axis":null}}},
  {"transform":[{"filter":"datum.row==='title'"}],"mark":{"type":"rule","stroke":"#808080","strokeWidth":1},"encoding":{"y":{"field":"row","type":"nominal","bandPosition":1,"axis":null}}},
  {"transform":[{"filter":"datum.row==='header'"}],"mark":{"type":"rule","stroke":"#A6A6A6","strokeWidth":1},"encoding":{"y":{"field":"row","type":"nominal","bandPosition":0.5,"axis":null}}},
  {"transform":[{"filter":"datum.row==='header'"}],"mark":{"type":"tick","orient":"vertical","size":13.68,"thickness":1,"color":"#A6A6A6","opacity":1},"encoding":{"x":{"datum":1,"type":"quantitative","scale":{"domain":[-0.03,1],"nice":false,"zero":false},"axis":null},"y":{"field":"row","type":"nominal","bandPosition":0.75,"axis":null}}},
  {"transform":[{"filter":"isValid(datum.pct)"}],"mark":{"type":"bar","height":{"band":0.43},"yOffset":6,"fill":{"gradient":"linear","x1":0,"y1":0,"x2":1,"y2":0,"stops":[{"offset":0,"color":"#FF3333"},{"offset":0.5,"color":"#FF8080"},{"offset":1,"color":"#FFF2F2"}]},"stroke":"#FF8A8A","strokeWidth":1},"encoding":{"x":{"field":"pct","type":"quantitative","scale":{"domain":[-0.03,1],"nice":false,"zero":false},"axis":null},"y":{"field":"row","type":"nominal","axis":null}}},
  {"transform":[{"filter":"datum.row==='header'"}],"mark":{"type":"text","font":"Noto Sans CJK JP","fontSize":11.5,"color":"#1A1A1A","baseline":"middle","align":"center"},"encoding":{"x":{"datum":0.485,"type":"quantitative","scale":{"domain":[-0.03,1],"nice":false,"zero":false},"axis":null},"y":{"field":"row","type":"nominal","bandPosition":0.75,"axis":null},"text":{"field":"col"}}},
  {"transform":[{"filter":"datum.row==='header'"}],"mark":{"type":"text","font":"Noto Sans CJK JP","fontSize":11.5,"color":"#1A1A1A","baseline":"middle","align":"center"},"encoding":{"x":{"datum":1,"type":"quantitative","scale":{"domain":[-0.03,1],"nice":false,"zero":false},"axis":null},"y":{"field":"row","type":"nominal","bandPosition":0.25,"axis":null},"text":{"value":"出身高校"}}},
  {"transform":[{"filter":"isValid(datum.n) && indexof(datum.row,'平均')<0"}],"mark":{"type":"text","font":"Liberation Sans Narrow, Noto Sans CJK JP","fontSize":12,"color":"#111111","align":"right","baseline":"middle","dx":-6.5,"dy":-7},"encoding":{"x":{"datum":1,"type":"quantitative","scale":{"domain":[-0.03,1],"nice":false,"zero":false},"axis":null},"y":{"field":"row","type":"nominal","axis":null},"text":{"field":"n","type":"quantitative","format":"d"}}},
  {"transform":[{"filter":"isValid(datum.n) && indexof(datum.row,'平均')>=0"}],"mark":{"type":"text","font":"Liberation Sans Narrow, Noto Sans CJK JP","fontSize":12,"color":"#111111","align":"right","baseline":"middle","dx":-6.5,"dy":-7},"encoding":{"x":{"datum":1,"type":"quantitative","scale":{"domain":[-0.03,1],"nice":false,"zero":false},"axis":null},"y":{"field":"row","type":"nominal","axis":null},"text":{"field":"n","type":"quantitative","format":".1f"}}},
  {"transform":[{"filter":"isValid(datum.pct)"}],"mark":{"type":"text","font":"Liberation Sans Narrow, Noto Sans CJK JP","fontSize":11.5,"color":"#111111","align":"right","baseline":"middle","dx":-2,"dy":7.5},"encoding":{"x":{"datum":1,"type":"quantitative","scale":{"domain":[-0.03,1],"nice":false,"zero":false},"axis":null},"y":{"field":"row","type":"nominal","axis":null},"text":{"field":"pct","type":"quantitative","format":".0%"}}},
  {"transform":[{"filter":"indexof(datum.row,'直近')===0"}],"mark":{"type":"rule","stroke":"#404040","strokeWidth":1},"encoding":{"y":{"field":"row","type":"nominal","bandPosition":1,"axis":null}}}]},
 {"width":50,"height":383,"data":{"name":"nutrition_apply"},"transform":[{"filter":"datum.col==='県外'"}],"layer":[
  {"transform":[{"filter":"datum.row!=='header' && datum.row!=='title'"}],"mark":{"type":"rect","stroke":"#A6A6A6","strokeWidth":1},"encoding":{"x":{"datum":-0.03,"type":"quantitative","scale":{"domain":[-0.03,1],"nice":false,"zero":false},"axis":null},"x2":{"datum":1},"y":{"field":"row","type":"nominal","scale":{"domain":["title","header","平成27年度","平成28年度","平成29年度","平成30年度","平成31年度\n（令和元年度）","令和２年度","令和３年度","令和４年度","令和５年度","令和６年度","平均(H27～R6)","直近４か年\n平均(R3～R6)"],"paddingInner":0,"paddingOuter":0},"axis":null},"fill":{"condition":{"test":"indexof(datum.row,'平均')>=0","value":"#F2F2F2"},"value":"#FFFFFF"}}},
  {"transform":[{"filter":"datum.row==='title'"}],"mark":{"type":"rule","stroke":"#1A1A1A","strokeWidth":1.2},"encoding":{"y":{"field":"row","type":"nominal","bandPosition":0,"axis":null}}},
  {"transform":[{"filter":"datum.row==='title'"}],"mark":{"type":"rule","stroke":"#808080","strokeWidth":1},"encoding":{"y":{"field":"row","type":"nominal","bandPosition":1,"axis":null}}},
  {"transform":[{"filter":"datum.row==='header'"}],"mark":{"type":"rule","stroke":"#A6A6A6","strokeWidth":1},"encoding":{"y":{"field":"row","type":"nominal","bandPosition":0.5,"axis":null}}},
  {"transform":[{"filter":"isValid(datum.pct)"}],"mark":{"type":"bar","height":{"band":0.43},"yOffset":6,"fill":{"gradient":"linear","x1":0,"y1":0,"x2":1,"y2":0,"stops":[{"offset":0,"color":"#FF3333"},{"offset":0.5,"color":"#FF8080"},{"offset":1,"color":"#FFF2F2"}]},"stroke":"#FF8A8A","strokeWidth":1},"encoding":{"x":{"field":"pct","type":"quantitative","scale":{"domain":[-0.03,1],"nice":false,"zero":false},"axis":null},"y":{"field":"row","type":"nominal","axis":null}}},
  {"transform":[{"filter":"datum.row==='header'"}],"mark":{"type":"text","font":"Noto Sans CJK JP","fontSize":11.5,"color":"#7F7F7F","baseline":"middle","align":"center"},"encoding":{"x":{"datum":0.485,"type":"quantitative","scale":{"domain":[-0.03,1],"nice":false,"zero":false},"axis":null},"y":{"field":"row","type":"nominal","bandPosition":0.75,"axis":null},"text":{"field":"col"}}},
  {"transform":[{"filter":"isValid(datum.n) && indexof(datum.row,'平均')<0"}],"mark":{"type":"text","font":"Liberation Serif, Noto Sans CJK JP","fontSize":11.5,"color":"#7F7F7F","align":"right","baseline":"middle","dx":-6.5,"dy":-7},"encoding":{"x":{"datum":1,"type":"quantitative","scale":{"domain":[-0.03,1],"nice":false,"zero":false},"axis":null},"y":{"field":"row","type":"nominal","axis":null},"text":{"field":"n","type":"quantitative","format":"d"}}},
  {"transform":[{"filter":"isValid(datum.n) && indexof(datum.row,'平均')>=0"}],"mark":{"type":"text","font":"Liberation Serif, Noto Sans CJK JP","fontSize":11.5,"color":"#7F7F7F","align":"right","baseline":"middle","dx":-6.5,"dy":-7},"encoding":{"x":{"datum":1,"type":"quantitative","scale":{"domain":[-0.03,1],"nice":false,"zero":false},"axis":null},"y":{"field":"row","type":"nominal","axis":null},"text":{"field":"n","type":"quantitative","format":".1f"}}},
  {"transform":[{"filter":"isValid(datum.pct)"}],"mark":{"type":"text","font":"Liberation Serif, Noto Sans CJK JP","fontSize":11,"color":"#7F7F7F","align":"right","baseline":"middle","dx":-2,"dy":7.5},"encoding":{"x":{"datum":1,"type":"quantitative","scale":{"domain":[-0.03,1],"nice":false,"zero":false},"axis":null},"y":{"field":"row","type":"nominal","axis":null},"text":{"field":"pct","type":"quantitative","format":".0%"}}},
  {"transform":[{"filter":"indexof(datum.row,'直近')===0"}],"mark":{"type":"rule","stroke":"#404040","strokeWidth":1},"encoding":{"y":{"field":"row","type":"nominal","bandPosition":1,"axis":null}}},
  {"transform":[{"filter":"datum.row==='header'"}],"mark":{"type":"rule","stroke":"#404040","strokeWidth":1},"encoding":{"x":{"datum":1,"type":"quantitative","scale":{"domain":[-0.03,1],"nice":false,"zero":false},"axis":null}}}]},
 {"width":24,"height":383,"data":{"name":"nutrition_enroll"},"transform":[{"filter":"datum.col==='入学者数' && datum.row==='令和２年度'"}],
  "mark":{"type":"point","shape":"M0,-1L0.1828,0L0,1Z","size":74841,"filled":true,"color":"#FF4B4B","opacity":1,"strokeWidth":0},
  "encoding":{"x":{"datum":0,"type":"quantitative","scale":{"domain":[0,1],"nice":false,"zero":false},"axis":null},"y":{"field":"row","type":"nominal","bandPosition":0,"scale":{"domain":["title","header","平成27年度","平成28年度","平成29年度","平成30年度","平成31年度\n（令和元年度）","令和２年度","令和３年度","令和４年度","令和５年度","令和６年度","平均(H27～R6)","直近４か年\n平均(R3～R6)"],"paddingInner":0,"paddingOuter":0},"axis":null}}},
 {"width":50,"height":383,"data":{"name":"nutrition_enroll"},"transform":[{"filter":"datum.col==='入学者数'"}],"layer":[
  {"transform":[{"filter":"datum.row!=='header' && datum.row!=='title'"}],"mark":{"type":"rect","stroke":"#A6A6A6","strokeWidth":1},"encoding":{"x":{"datum":-0.03,"type":"quantitative","scale":{"domain":[-0.03,1],"nice":false,"zero":false},"axis":null},"x2":{"datum":1},"y":{"field":"row","type":"nominal","scale":{"domain":["title","header","平成27年度","平成28年度","平成29年度","平成30年度","平成31年度\n（令和元年度）","令和２年度","令和３年度","令和４年度","令和５年度","令和６年度","平均(H27～R6)","直近４か年\n平均(R3～R6)"],"paddingInner":0,"paddingOuter":0},"axis":null},"fill":{"condition":{"test":"indexof(datum.row,'平均')>=0","value":"#F2F2F2"},"value":"#FFFFFF"}}},
  {"transform":[{"filter":"datum.row==='header'"}],"mark":{"type":"rect","fill":"#FFFFFF","stroke":"#A6A6A6","strokeWidth":1},"encoding":{"x":{"datum":-0.03,"type":"quantitative","scale":{"domain":[-0.03,1],"nice":false,"zero":false},"axis":null},"x2":{"datum":1},"y":{"field":"row","type":"nominal","axis":null}}},
  {"transform":[{"filter":"datum.row==='title'"}],"mark":{"type":"rule","stroke":"#1A1A1A","strokeWidth":1.2},"encoding":{"y":{"field":"row","type":"nominal","bandPosition":0,"axis":null}}},
  {"transform":[{"filter":"datum.row==='title'"}],"mark":{"type":"rule","stroke":"#808080","strokeWidth":1},"encoding":{"y":{"field":"row","type":"nominal","bandPosition":1,"axis":null}}},
  {"transform":[{"filter":"datum.row==='header'"}],"mark":{"type":"text","font":"Noto Sans CJK JP","fontSize":11.5,"fontWeight":"bold","color":"#1A1A1A","baseline":"middle","align":"center"},"encoding":{"x":{"datum":0.485,"type":"quantitative","scale":{"domain":[-0.03,1],"nice":false,"zero":false},"axis":null},"y":{"field":"row","type":"nominal","axis":null},"text":{"field":"col"}}},
  {"transform":[{"filter":"isValid(datum.n) && indexof(datum.row,'平均')<0"}],"mark":{"type":"text","font":"Liberation Sans Narrow, Noto Sans CJK JP","fontSize":12,"color":"#111111","align":"right","baseline":"middle","dx":-6.5,"dy":-7},"encoding":{"x":{"datum":1,"type":"quantitative","scale":{"domain":[-0.03,1],"nice":false,"zero":false},"axis":null},"y":{"field":"row","type":"nominal","axis":null},"text":{"field":"n","type":"quantitative","format":"d"}}},
  {"transform":[{"filter":"isValid(datum.n) && indexof(datum.row,'平均')>=0"}],"mark":{"type":"text","font":"Liberation Sans Narrow, Noto Sans CJK JP","fontSize":12,"color":"#111111","align":"right","baseline":"middle","dx":-6.5,"dy":-7},"encoding":{"x":{"datum":1,"type":"quantitative","scale":{"domain":[-0.03,1],"nice":false,"zero":false},"axis":null},"y":{"field":"row","type":"nominal","axis":null},"text":{"field":"n","type":"quantitative","format":".1f"}}},
  {"transform":[{"filter":"indexof(datum.row,'直近')===0"}],"mark":{"type":"rule","stroke":"#404040","strokeWidth":1},"encoding":{"y":{"field":"row","type":"nominal","bandPosition":1,"axis":null}}},
  {"transform":[{"filter":"datum.row==='header'"}],"mark":{"type":"rule","stroke":"#404040","strokeWidth":1},"encoding":{"x":{"datum":-0.03,"type":"quantitative","scale":{"domain":[-0.03,1],"nice":false,"zero":false},"axis":null}}}]},
 {"width":50,"height":383,"data":{"name":"nutrition_enroll"},"transform":[{"filter":"datum.col==='県内'"}],"layer":[
  {"transform":[{"filter":"datum.row!=='header' && datum.row!=='title'"}],"mark":{"type":"rect","stroke":"#A6A6A6","strokeWidth":1},"encoding":{"x":{"datum":-0.03,"type":"quantitative","scale":{"domain":[-0.03,1],"nice":false,"zero":false},"axis":null},"x2":{"datum":1},"y":{"field":"row","type":"nominal","scale":{"domain":["title","header","平成27年度","平成28年度","平成29年度","平成30年度","平成31年度\n（令和元年度）","令和２年度","令和３年度","令和４年度","令和５年度","令和６年度","平均(H27～R6)","直近４か年\n平均(R3～R6)"],"paddingInner":0,"paddingOuter":0},"axis":null},"fill":{"condition":{"test":"indexof(datum.row,'平均')>=0","value":"#F2F2F2"},"value":"#FFFFFF"}}},
  {"transform":[{"filter":"datum.row==='title'"}],"mark":{"type":"rule","stroke":"#1A1A1A","strokeWidth":1.2},"encoding":{"y":{"field":"row","type":"nominal","bandPosition":0,"axis":null}}},
  {"transform":[{"filter":"datum.row==='title'"}],"mark":{"type":"rule","stroke":"#808080","strokeWidth":1},"encoding":{"y":{"field":"row","type":"nominal","bandPosition":1,"axis":null}}},
  {"transform":[{"filter":"datum.row==='header'"}],"mark":{"type":"rule","stroke":"#A6A6A6","strokeWidth":1},"encoding":{"y":{"field":"row","type":"nominal","bandPosition":0.5,"axis":null}}},
  {"transform":[{"filter":"datum.row==='header'"}],"mark":{"type":"tick","orient":"vertical","size":13.68,"thickness":1,"color":"#A6A6A6","opacity":1},"encoding":{"x":{"datum":1,"type":"quantitative","scale":{"domain":[-0.03,1],"nice":false,"zero":false},"axis":null},"y":{"field":"row","type":"nominal","bandPosition":0.75,"axis":null}}},
  {"transform":[{"filter":"isValid(datum.pct)"}],"mark":{"type":"bar","height":{"band":0.43},"yOffset":6,"fill":{"gradient":"linear","x1":0,"y1":0,"x2":1,"y2":0,"stops":[{"offset":0,"color":"#0563C1"},{"offset":0.5,"color":"#5B9BD5"},{"offset":1,"color":"#EEF5FB"}]},"stroke":"#4A90D0","strokeWidth":1},"encoding":{"x":{"field":"pct","type":"quantitative","scale":{"domain":[-0.03,1],"nice":false,"zero":false},"axis":null},"y":{"field":"row","type":"nominal","axis":null}}},
  {"transform":[{"filter":"isValid(datum.label)"}],"mark":{"type":"text","font":"Noto Sans CJK JP","fontSize":12.5,"fontWeight":"bold","color":"#404040","baseline":"middle","align":"center"},"encoding":{"x":{"datum":0.485,"type":"quantitative","scale":{"domain":[-0.03,1],"nice":false,"zero":false},"axis":null},"y":{"field":"row","type":"nominal","axis":null},"text":{"field":"label"}}},
  {"transform":[{"filter":"datum.row==='header'"}],"mark":{"type":"text","font":"Noto Sans CJK JP","fontSize":11.5,"color":"#1A1A1A","baseline":"middle","align":"center"},"encoding":{"x":{"datum":0.485,"type":"quantitative","scale":{"domain":[-0.03,1],"nice":false,"zero":false},"axis":null},"y":{"field":"row","type":"nominal","bandPosition":0.75,"axis":null},"text":{"field":"col"}}},
  {"transform":[{"filter":"datum.row==='header'"}],"mark":{"type":"text","font":"Noto Sans CJK JP","fontSize":11.5,"color":"#1A1A1A","baseline":"middle","align":"center"},"encoding":{"x":{"datum":1,"type":"quantitative","scale":{"domain":[-0.03,1],"nice":false,"zero":false},"axis":null},"y":{"field":"row","type":"nominal","bandPosition":0.25,"axis":null},"text":{"value":"出身高校"}}},
  {"transform":[{"filter":"isValid(datum.n) && indexof(datum.row,'平均')<0"}],"mark":{"type":"text","font":"Liberation Sans Narrow, Noto Sans CJK JP","fontSize":12,"color":"#111111","align":"right","baseline":"middle","dx":-6.5,"dy":-7},"encoding":{"x":{"datum":1,"type":"quantitative","scale":{"domain":[-0.03,1],"nice":false,"zero":false},"axis":null},"y":{"field":"row","type":"nominal","axis":null},"text":{"field":"n","type":"quantitative","format":"d"}}},
  {"transform":[{"filter":"isValid(datum.n) && indexof(datum.row,'平均')>=0"}],"mark":{"type":"text","font":"Liberation Sans Narrow, Noto Sans CJK JP","fontSize":12,"color":"#111111","align":"right","baseline":"middle","dx":-6.5,"dy":-7},"encoding":{"x":{"datum":1,"type":"quantitative","scale":{"domain":[-0.03,1],"nice":false,"zero":false},"axis":null},"y":{"field":"row","type":"nominal","axis":null},"text":{"field":"n","type":"quantitative","format":".1f"}}},
  {"transform":[{"filter":"isValid(datum.pct)"}],"mark":{"type":"text","font":"Liberation Sans Narrow, Noto Sans CJK JP","fontSize":11.5,"color":"#111111","align":"right","baseline":"middle","dx":-2,"dy":7.5},"encoding":{"x":{"datum":1,"type":"quantitative","scale":{"domain":[-0.03,1],"nice":false,"zero":false},"axis":null},"y":{"field":"row","type":"nominal","axis":null},"text":{"field":"pct","type":"quantitative","format":".0%"}}},
  {"transform":[{"filter":"indexof(datum.row,'直近')===0"}],"mark":{"type":"rule","stroke":"#404040","strokeWidth":1},"encoding":{"y":{"field":"row","type":"nominal","bandPosition":1,"axis":null}}}]},
 {"width":50,"height":383,"data":{"name":"nutrition_enroll"},"transform":[{"filter":"datum.col==='県外'"}],"layer":[
  {"transform":[{"filter":"datum.row!=='header' && datum.row!=='title'"}],"mark":{"type":"rect","stroke":"#A6A6A6","strokeWidth":1},"encoding":{"x":{"datum":-0.03,"type":"quantitative","scale":{"domain":[-0.03,1],"nice":false,"zero":false},"axis":null},"x2":{"datum":1},"y":{"field":"row","type":"nominal","scale":{"domain":["title","header","平成27年度","平成28年度","平成29年度","平成30年度","平成31年度\n（令和元年度）","令和２年度","令和３年度","令和４年度","令和５年度","令和６年度","平均(H27～R6)","直近４か年\n平均(R3～R6)"],"paddingInner":0,"paddingOuter":0},"axis":null},"fill":{"condition":{"test":"indexof(datum.row,'平均')>=0","value":"#F2F2F2"},"value":"#FFFFFF"}}},
  {"transform":[{"filter":"datum.row==='title'"}],"mark":{"type":"rule","stroke":"#1A1A1A","strokeWidth":1.2},"encoding":{"y":{"field":"row","type":"nominal","bandPosition":0,"axis":null}}},
  {"transform":[{"filter":"datum.row==='title'"}],"mark":{"type":"rule","stroke":"#808080","strokeWidth":1},"encoding":{"y":{"field":"row","type":"nominal","bandPosition":1,"axis":null}}},
  {"transform":[{"filter":"datum.row==='header'"}],"mark":{"type":"rule","stroke":"#A6A6A6","strokeWidth":1},"encoding":{"y":{"field":"row","type":"nominal","bandPosition":0.5,"axis":null}}},
  {"transform":[{"filter":"isValid(datum.pct)"}],"mark":{"type":"bar","height":{"band":0.43},"yOffset":6,"fill":{"gradient":"linear","x1":0,"y1":0,"x2":1,"y2":0,"stops":[{"offset":0,"color":"#0563C1"},{"offset":0.5,"color":"#5B9BD5"},{"offset":1,"color":"#EEF5FB"}]},"stroke":"#4A90D0","strokeWidth":1},"encoding":{"x":{"field":"pct","type":"quantitative","scale":{"domain":[-0.03,1],"nice":false,"zero":false},"axis":null},"y":{"field":"row","type":"nominal","axis":null}}},
  {"transform":[{"filter":"datum.row==='header'"}],"mark":{"type":"text","font":"Noto Sans CJK JP","fontSize":11.5,"color":"#7F7F7F","baseline":"middle","align":"center"},"encoding":{"x":{"datum":0.485,"type":"quantitative","scale":{"domain":[-0.03,1],"nice":false,"zero":false},"axis":null},"y":{"field":"row","type":"nominal","bandPosition":0.75,"axis":null},"text":{"field":"col"}}},
  {"transform":[{"filter":"isValid(datum.n) && indexof(datum.row,'平均')<0"}],"mark":{"type":"text","font":"Liberation Serif, Noto Sans CJK JP","fontSize":11.5,"color":"#7F7F7F","align":"right","baseline":"middle","dx":-6.5,"dy":-7},"encoding":{"x":{"datum":1,"type":"quantitative","scale":{"domain":[-0.03,1],"nice":false,"zero":false},"axis":null},"y":{"field":"row","type":"nominal","axis":null},"text":{"field":"n","type":"quantitative","format":"d"}}},
  {"transform":[{"filter":"isValid(datum.n) && indexof(datum.row,'平均')>=0"}],"mark":{"type":"text","font":"Liberation Serif, Noto Sans CJK JP","fontSize":11.5,"color":"#7F7F7F","align":"right","baseline":"middle","dx":-6.5,"dy":-7},"encoding":{"x":{"datum":1,"type":"quantitative","scale":{"domain":[-0.03,1],"nice":false,"zero":false},"axis":null},"y":{"field":"row","type":"nominal","axis":null},"text":{"field":"n","type":"quantitative","format":".1f"}}},
  {"transform":[{"filter":"isValid(datum.pct)"}],"mark":{"type":"text","font":"Liberation Serif, Noto Sans CJK JP","fontSize":11,"color":"#7F7F7F","align":"right","baseline":"middle","dx":-2,"dy":7.5},"encoding":{"x":{"datum":1,"type":"quantitative","scale":{"domain":[-0.03,1],"nice":false,"zero":false},"axis":null},"y":{"field":"row","type":"nominal","axis":null},"text":{"field":"pct","type":"quantitative","format":".0%"}}},
  {"transform":[{"filter":"indexof(datum.row,'直近')===0"}],"mark":{"type":"rule","stroke":"#404040","strokeWidth":1},"encoding":{"y":{"field":"row","type":"nominal","bandPosition":1,"axis":null}}},
  {"transform":[{"filter":"datum.row==='header'"}],"mark":{"type":"rule","stroke":"#404040","strokeWidth":1},"encoding":{"x":{"datum":1,"type":"quantitative","scale":{"domain":[-0.03,1],"nice":false,"zero":false},"axis":null}}},
  {"transform":[{"filter":"indexof(datum.row,'直近')===0"}],"mark":{"type":"rect","xOffset":-405,"x2Offset":2,"fill":"transparent","stroke":"#C00000","strokeWidth":2.5,"cornerRadius":3},"encoding":{"x":{"datum":-0.03,"type":"quantitative","scale":{"domain":[-0.03,1],"nice":false,"zero":false},"axis":null},"x2":{"datum":1},"y":{"field":"row","type":"nominal","axis":null}}}]}
],"spacing":0,"bounds":"flush"}
],
"spacing":13
}
